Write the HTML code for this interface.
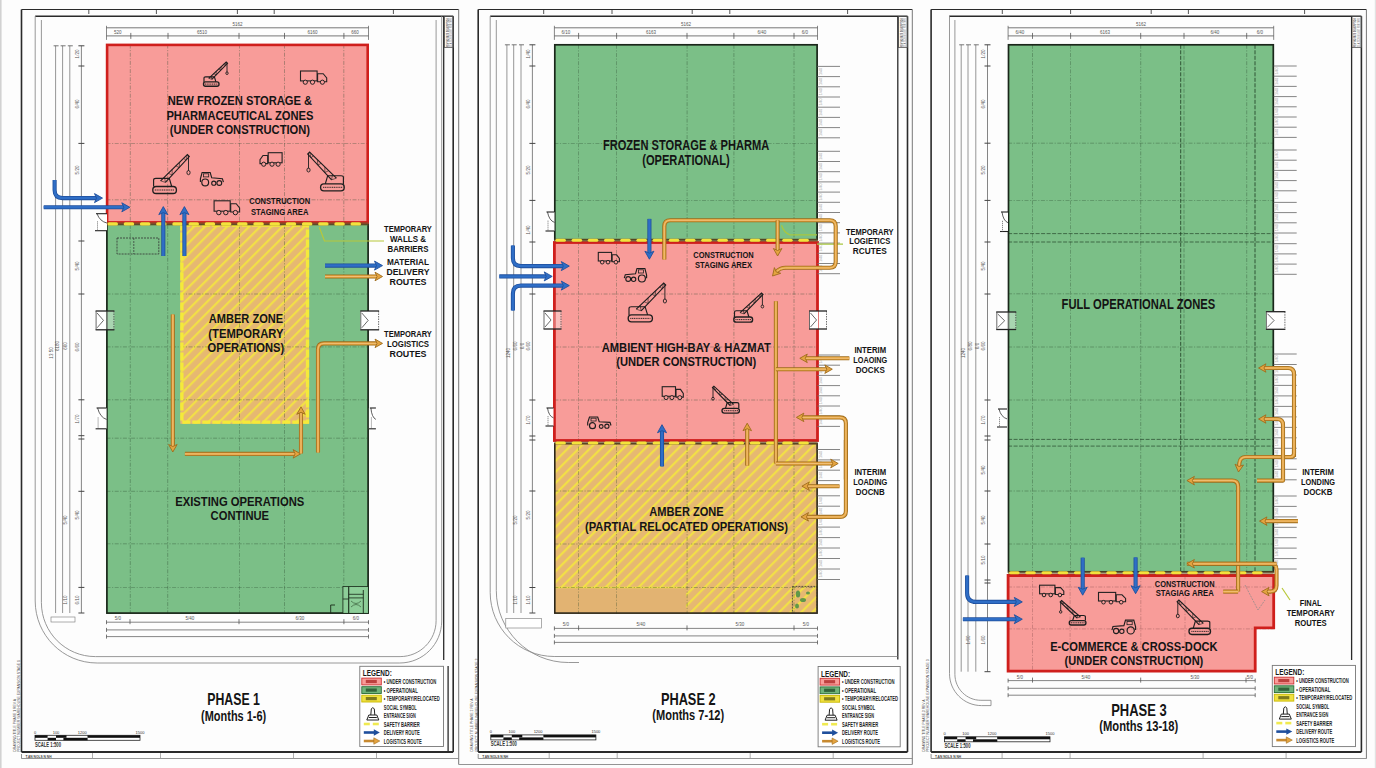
<!DOCTYPE html>
<html><head><meta charset="utf-8"><style>
html,body{margin:0;padding:0;background:#fff;}
svg{display:block;font-family:"Liberation Sans",sans-serif;}
</style></head><body>
<svg width="1376" height="768" viewBox="0 0 1376 768">
<defs>
<pattern id="hat" patternUnits="userSpaceOnUse" width="7.8" height="7.8" patternTransform="rotate(45)">
<rect width="7.8" height="7.8" fill="#e6b872"/><rect x="0" y="0" width="2.2" height="7.8" fill="#f2e046"/>
</pattern>
</defs>
<rect width="1376" height="768" fill="#fdfdfd"/>
<line x1="0.8" y1="0" x2="0.8" y2="768" stroke="#d0d0d0" stroke-width="1.5"/>
<line x1="1375.4" y1="0" x2="1375.4" y2="768" stroke="#e2e2e2" stroke-width="1.2"/>
<line x1="21.5" y1="9.5" x2="458.7" y2="9.5" stroke="#2a2a2a" stroke-width="1.2" /><line x1="21.5" y1="9.5" x2="21.5" y2="752.0" stroke="#2a2a2a" stroke-width="1.6" /><line x1="458.7" y1="9.5" x2="458.7" y2="764.5" stroke="#777" stroke-width="1.0" /><line x1="35.2" y1="16.2" x2="453.2" y2="16.2" stroke="#2a2a2a" stroke-width="1.6" /><line x1="453.2" y1="16.2" x2="453.2" y2="752.0" stroke="#2a2a2a" stroke-width="1.6" /><line x1="21.5" y1="752.0" x2="453.2" y2="752.0" stroke="#2a2a2a" stroke-width="1.8" /><line x1="21.5" y1="758.5" x2="458.7" y2="758.5" stroke="#888" stroke-width="0.9" /><rect x="444.3" y="16.5" width="8.9" height="31.0" fill="none" stroke="#555" stroke-width="0.8" /><text transform="translate(448.9,47) rotate(-90)" font-size="4" font-weight="bold" fill="#555" textLength="29" lengthAdjust="spacingAndGlyphs">REV NO DATE DESCRIPTION</text><text transform="translate(452.1,47) rotate(-90)" font-size="3.2" fill="#777" textLength="29" lengthAdjust="spacingAndGlyphs">01 A 2024 ISSUED FOR INFO</text><line x1="88.8" y1="9.5" x2="88.8" y2="14.0" stroke="#2a2a2a" stroke-width="0.8" /><line x1="156.4" y1="9.5" x2="156.4" y2="14.0" stroke="#2a2a2a" stroke-width="0.8" /><line x1="237.4" y1="9.5" x2="237.4" y2="14.0" stroke="#2a2a2a" stroke-width="0.8" /><line x1="274.2" y1="9.5" x2="274.2" y2="14.0" stroke="#2a2a2a" stroke-width="0.8" /><line x1="393.4" y1="9.5" x2="393.4" y2="14.0" stroke="#2a2a2a" stroke-width="0.8" /><line x1="443.7" y1="16.5" x2="443.7" y2="660.0" stroke="#2a2a2a" stroke-width="1.3" /><line x1="448.1" y1="666.0" x2="448.1" y2="752.0" stroke="#2a2a2a" stroke-width="1.3" /><path d="M35.2,16.2 L35.2,601 C35.2,635.2426 62.95740000000001,663 97.2,663 L399.7,663 C422.8966,663 441.7,644.1966 441.7,621 L441.7,16.2" stroke="#8c8c8c" stroke-width="0.9" fill="none" /><path d="M41.4,20 L41.4,602.6 C41.4,632.4242 65.5758,656.6 95.4,656.6 L400.1,656.6 C419.9828,656.6 436.1,640.4828 436.1,620.6 L436.1,20" stroke="#8c8c8c" stroke-width="0.9" fill="none" /><text transform="translate(15.6,751.7) rotate(-90)" font-size="3.9" fill="#444" textLength="52.7" lengthAdjust="spacingAndGlyphs">DRAWING TITLE PHASE 1 REV A</text><text transform="translate(19.7,751.7) rotate(-90)" font-size="3.9" fill="#444" textLength="91.7" lengthAdjust="spacingAndGlyphs">PROJECT NUMBER WAREHOUSE EXPANSION STAGE 1</text><text x="25.5" y="757.5" font-size="4.2" font-weight="bold" fill="#444" textLength="26" lengthAdjust="spacingAndGlyphs">T.AN NOLS N NH</text><line x1="21.5" y1="754.0" x2="21.5" y2="758.5" stroke="#777" stroke-width="0.8" /><line x1="92.5" y1="753.0" x2="92.5" y2="758.5" stroke="#999" stroke-width="0.8" /><line x1="160.5" y1="753.0" x2="160.5" y2="758.5" stroke="#999" stroke-width="0.8" /><line x1="293.5" y1="753.0" x2="293.5" y2="758.5" stroke="#999" stroke-width="0.8" /><line x1="376.5" y1="753.0" x2="376.5" y2="758.5" stroke="#999" stroke-width="0.8" /><rect x="106.5" y="44.5" width="262.0" height="178.0" fill="#f89c99" stroke="none" stroke-width="1" /><rect x="106.5" y="224.0" width="262.0" height="389.5" fill="#7bbf87" stroke="none" stroke-width="1" /><rect x="180.3" y="225.0" width="128.8" height="198.8" fill="url(#hat)" stroke="none" stroke-width="1" /><line x1="130.3" y1="44.5" x2="130.3" y2="613.5" stroke="#2b4a2f" stroke-width="0.75" stroke-dasharray="4,1.5,1.2,1.5" opacity="0.47"/><line x1="167.7" y1="44.5" x2="167.7" y2="613.5" stroke="#2b4a2f" stroke-width="0.75" stroke-dasharray="4,1.5,1.2,1.5" opacity="0.47"/><line x1="239.4" y1="44.5" x2="239.4" y2="613.5" stroke="#2b4a2f" stroke-width="0.75" stroke-dasharray="4,1.5,1.2,1.5" opacity="0.47"/><line x1="284.5" y1="44.5" x2="284.5" y2="613.5" stroke="#2b4a2f" stroke-width="0.75" stroke-dasharray="4,1.5,1.2,1.5" opacity="0.47"/><line x1="343.8" y1="44.5" x2="343.8" y2="613.5" stroke="#2b4a2f" stroke-width="0.75" stroke-dasharray="4,1.5,1.2,1.5" opacity="0.47"/><line x1="106.5" y1="143.4" x2="368.5" y2="143.4" stroke="#2b4a2f" stroke-width="0.75" stroke-dasharray="4,1.5,1.2,1.5" opacity="0.47"/><line x1="106.5" y1="199.8" x2="368.5" y2="199.8" stroke="#2b4a2f" stroke-width="0.75" stroke-dasharray="4,1.5,1.2,1.5" opacity="0.47"/><line x1="106.5" y1="294.0" x2="368.5" y2="294.0" stroke="#2b4a2f" stroke-width="0.75" stroke-dasharray="4,1.5,1.2,1.5" opacity="0.47"/><line x1="106.5" y1="346.9" x2="368.5" y2="346.9" stroke="#2b4a2f" stroke-width="0.75" stroke-dasharray="4,1.5,1.2,1.5" opacity="0.47"/><line x1="106.5" y1="399.8" x2="368.5" y2="399.8" stroke="#2b4a2f" stroke-width="0.75" stroke-dasharray="4,1.5,1.2,1.5" opacity="0.47"/><line x1="106.5" y1="438.2" x2="368.5" y2="438.2" stroke="#2b4a2f" stroke-width="0.75" stroke-dasharray="4,1.5,1.2,1.5" opacity="0.47"/><line x1="106.5" y1="491.3" x2="368.5" y2="491.3" stroke="#2b4a2f" stroke-width="0.75" stroke-dasharray="4,1.5,1.2,1.5" opacity="0.47"/><line x1="106.5" y1="543.8" x2="368.5" y2="543.8" stroke="#2b4a2f" stroke-width="0.75" stroke-dasharray="4,1.5,1.2,1.5" opacity="0.47"/><line x1="106.5" y1="587.4" x2="368.5" y2="587.4" stroke="#2b4a2f" stroke-width="0.75" stroke-dasharray="4,1.5,1.2,1.5" opacity="0.47"/><rect x="181.9" y="225.0" width="125.6" height="197.2" fill="none" stroke="#f4ea3a" stroke-width="3.3" stroke-dasharray="8,2"/><rect x="106.9" y="224.0" width="261.2" height="389.1" fill="none" stroke="#1a261a" stroke-width="1.7" /><rect x="107.1" y="44.9" width="260.6" height="177.5" fill="none" stroke="#cf1f1c" stroke-width="2.6" /><rect x="106.5" y="222.2" width="262.0" height="3.4" fill="#7a5a2a" stroke="none" stroke-width="1" opacity="0.6"/><rect x="107.5" y="222.3" width="10.5" height="3.2" fill="#f4e23c" stroke="none" stroke-width="1" rx="1.6"/><rect x="123.7" y="222.3" width="10.5" height="3.2" fill="#f4e23c" stroke="none" stroke-width="1" rx="1.6"/><rect x="139.9" y="222.3" width="10.5" height="3.2" fill="#f4e23c" stroke="none" stroke-width="1" rx="1.6"/><rect x="156.1" y="222.3" width="10.5" height="3.2" fill="#f4e23c" stroke="none" stroke-width="1" rx="1.6"/><rect x="172.3" y="222.3" width="10.5" height="3.2" fill="#f4e23c" stroke="none" stroke-width="1" rx="1.6"/><rect x="188.5" y="222.3" width="10.5" height="3.2" fill="#f4e23c" stroke="none" stroke-width="1" rx="1.6"/><rect x="204.7" y="222.3" width="10.5" height="3.2" fill="#f4e23c" stroke="none" stroke-width="1" rx="1.6"/><rect x="220.9" y="222.3" width="10.5" height="3.2" fill="#f4e23c" stroke="none" stroke-width="1" rx="1.6"/><rect x="237.1" y="222.3" width="10.5" height="3.2" fill="#f4e23c" stroke="none" stroke-width="1" rx="1.6"/><rect x="253.3" y="222.3" width="10.5" height="3.2" fill="#f4e23c" stroke="none" stroke-width="1" rx="1.6"/><rect x="269.5" y="222.3" width="10.5" height="3.2" fill="#f4e23c" stroke="none" stroke-width="1" rx="1.6"/><rect x="285.7" y="222.3" width="10.5" height="3.2" fill="#f4e23c" stroke="none" stroke-width="1" rx="1.6"/><rect x="301.9" y="222.3" width="10.5" height="3.2" fill="#f4e23c" stroke="none" stroke-width="1" rx="1.6"/><rect x="318.1" y="222.3" width="10.5" height="3.2" fill="#f4e23c" stroke="none" stroke-width="1" rx="1.6"/><rect x="334.3" y="222.3" width="10.5" height="3.2" fill="#f4e23c" stroke="none" stroke-width="1" rx="1.6"/><rect x="350.5" y="222.3" width="10.5" height="3.2" fill="#f4e23c" stroke="none" stroke-width="1" rx="1.6"/><line x1="106.5" y1="27.8" x2="368.5" y2="27.8" stroke="#555" stroke-width="0.8" /><line x1="106.5" y1="35.9" x2="368.5" y2="35.9" stroke="#555" stroke-width="0.8" /><line x1="106.5" y1="25.8" x2="106.5" y2="39.9" stroke="#555" stroke-width="0.7" /><line x1="368.5" y1="25.8" x2="368.5" y2="39.9" stroke="#555" stroke-width="0.7" /><line x1="130.8" y1="32.9" x2="130.8" y2="38.9" stroke="#555" stroke-width="0.8" /><line x1="168.0" y1="32.9" x2="168.0" y2="38.9" stroke="#555" stroke-width="0.8" /><line x1="239.0" y1="32.9" x2="239.0" y2="38.9" stroke="#555" stroke-width="0.8" /><line x1="284.5" y1="32.9" x2="284.5" y2="38.9" stroke="#555" stroke-width="0.8" /><line x1="343.9" y1="32.9" x2="343.9" y2="38.9" stroke="#555" stroke-width="0.8" /><text x="237.5" y="26.3" font-size="4.5" fill="#555" text-anchor="middle">5162</text><text x="117.8" y="33.9" font-size="4.5" fill="#555" text-anchor="middle">520</text><text x="202.0" y="33.9" font-size="4.5" fill="#555" text-anchor="middle">6510</text><text x="312.5" y="33.9" font-size="4.5" fill="#555" text-anchor="middle">6160</text><text x="355.0" y="33.9" font-size="4.5" fill="#555" text-anchor="middle">660</text><line x1="106.5" y1="622.2" x2="368.5" y2="622.2" stroke="#666" stroke-width="0.8" /><line x1="106.5" y1="620.2" x2="106.5" y2="624.2" stroke="#555" stroke-width="0.8" /><line x1="368.5" y1="620.2" x2="368.5" y2="624.2" stroke="#555" stroke-width="0.8" /><line x1="106.5" y1="629.9" x2="368.5" y2="629.9" stroke="#666" stroke-width="0.8" /><line x1="106.5" y1="627.9" x2="106.5" y2="631.9" stroke="#555" stroke-width="0.8" /><line x1="368.5" y1="627.9" x2="368.5" y2="631.9" stroke="#555" stroke-width="0.8" /><line x1="106.5" y1="636.6" x2="368.5" y2="636.6" stroke="#666" stroke-width="0.8" /><line x1="106.5" y1="634.6" x2="106.5" y2="638.6" stroke="#555" stroke-width="0.8" /><line x1="368.5" y1="634.6" x2="368.5" y2="638.6" stroke="#555" stroke-width="0.8" /><line x1="130.0" y1="619.2" x2="130.0" y2="624.2" stroke="#555" stroke-width="0.8" /><line x1="239.0" y1="619.2" x2="239.0" y2="624.2" stroke="#555" stroke-width="0.8" /><line x1="343.9" y1="619.2" x2="343.9" y2="624.2" stroke="#555" stroke-width="0.8" /><text x="118.0" y="620.2" font-size="4.5" fill="#555" text-anchor="middle">5/0</text><text x="190.0" y="620.2" font-size="4.5" fill="#555" text-anchor="middle">5/40</text><text x="300.0" y="620.2" font-size="4.5" fill="#555" text-anchor="middle">6/30</text><text x="356.0" y="620.2" font-size="4.5" fill="#555" text-anchor="middle">6/0</text><line x1="55.6" y1="45.8" x2="55.6" y2="613.0" stroke="#8a8a8a" stroke-width="0.9" /><line x1="53.6" y1="45.8" x2="58.6" y2="45.8" stroke="#555" stroke-width="0.8" /><line x1="62.6" y1="45.8" x2="62.6" y2="613.0" stroke="#8a8a8a" stroke-width="0.9" /><line x1="60.6" y1="45.8" x2="65.6" y2="45.8" stroke="#555" stroke-width="0.8" /><line x1="69.8" y1="45.8" x2="69.8" y2="613.0" stroke="#8a8a8a" stroke-width="0.9" /><line x1="67.8" y1="45.8" x2="72.8" y2="45.8" stroke="#555" stroke-width="0.8" /><line x1="81.4" y1="45.8" x2="81.4" y2="613.0" stroke="#777" stroke-width="0.9" /><line x1="78.4" y1="45.8" x2="84.4" y2="45.8" stroke="#444" stroke-width="1.0" /><line x1="78.4" y1="66.0" x2="84.4" y2="66.0" stroke="#444" stroke-width="1.0" /><line x1="78.4" y1="143.4" x2="84.4" y2="143.4" stroke="#444" stroke-width="1.0" /><line x1="78.4" y1="241.0" x2="84.4" y2="241.0" stroke="#444" stroke-width="1.0" /><line x1="78.4" y1="294.0" x2="84.4" y2="294.0" stroke="#444" stroke-width="1.0" /><line x1="78.4" y1="399.8" x2="84.4" y2="399.8" stroke="#444" stroke-width="1.0" /><line x1="78.4" y1="435.7" x2="84.4" y2="435.7" stroke="#444" stroke-width="1.0" /><line x1="78.4" y1="439.0" x2="84.4" y2="439.0" stroke="#444" stroke-width="1.0" /><line x1="78.4" y1="491.3" x2="84.4" y2="491.3" stroke="#444" stroke-width="1.0" /><line x1="78.4" y1="587.4" x2="84.4" y2="587.4" stroke="#444" stroke-width="1.0" /><line x1="78.4" y1="613.0" x2="84.4" y2="613.0" stroke="#444" stroke-width="1.0" /><text transform="translate(78.6,54.0) rotate(-90)" font-size="4.5" fill="#555" text-anchor="middle">1/20</text><text transform="translate(78.6,104.0) rotate(-90)" font-size="4.5" fill="#555" text-anchor="middle">6/40</text><text transform="translate(78.6,170.0) rotate(-90)" font-size="4.5" fill="#555" text-anchor="middle">5/20</text><text transform="translate(78.6,266.0) rotate(-90)" font-size="4.5" fill="#555" text-anchor="middle">5/40</text><text transform="translate(78.6,347.0) rotate(-90)" font-size="4.5" fill="#555" text-anchor="middle">6/60</text><text transform="translate(78.6,419.0) rotate(-90)" font-size="4.5" fill="#555" text-anchor="middle">1/70</text><text transform="translate(52.8,353.0) rotate(-90)" font-size="4.5" fill="#555" text-anchor="middle">13 50</text><text transform="translate(59.4,346.0) rotate(-90)" font-size="4.5" fill="#555" text-anchor="middle">6180</text><text transform="translate(67.2,346.0) rotate(-90)" font-size="4.5" fill="#555" text-anchor="middle">660</text><text transform="translate(78.6,515.0) rotate(-90)" font-size="4.5" fill="#555" text-anchor="middle">5/40</text><text transform="translate(67.0,520.0) rotate(-90)" font-size="4.5" fill="#555" text-anchor="middle">5/40</text><text transform="translate(78.6,600.0) rotate(-90)" font-size="4.5" fill="#555" text-anchor="middle">6/10</text><text transform="translate(67.0,600.0) rotate(-90)" font-size="4.5" fill="#555" text-anchor="middle">1/10</text><rect x="51.0" y="617.0" width="24.0" height="5.0" fill="#fff" stroke="#777" stroke-width="0.6" /><rect x="105.0" y="311.0" width="9.4" height="18.8" fill="#ffffff" stroke="none" stroke-width="1" opacity="0.35"/><rect x="95.6" y="311.0" width="9.4" height="18.8" fill="#ffffff" stroke="none" stroke-width="1" /><line x1="95.6" y1="311.0" x2="114.4" y2="311.0" stroke="#222" stroke-width="1.3" /><line x1="95.6" y1="329.8" x2="114.4" y2="329.8" stroke="#222" stroke-width="1.3" /><line x1="96.1" y1="311.0" x2="96.1" y2="329.8" stroke="#444" stroke-width="0.8" /><line x1="113.9" y1="311.0" x2="113.9" y2="329.8" stroke="#333" stroke-width="0.7" stroke-dasharray="1.5,1"/><path d="M97.1,313 L103.496,320.4 L97.1,327.8" stroke="#444" stroke-width="0.8" fill="none" /><rect x="369.7" y="311.0" width="9.4" height="18.8" fill="#ffffff" stroke="none" stroke-width="1" opacity="0.35"/><rect x="360.3" y="311.0" width="9.4" height="18.8" fill="#ffffff" stroke="none" stroke-width="1" /><line x1="360.3" y1="311.0" x2="379.1" y2="311.0" stroke="#222" stroke-width="1.3" /><line x1="360.3" y1="329.8" x2="379.1" y2="329.8" stroke="#222" stroke-width="1.3" /><line x1="360.8" y1="311.0" x2="360.8" y2="329.8" stroke="#444" stroke-width="0.8" /><line x1="378.6" y1="311.0" x2="378.6" y2="329.8" stroke="#333" stroke-width="0.7" stroke-dasharray="1.5,1"/><path d="M361.8,313 L368.196,320.4 L361.8,327.8" stroke="#444" stroke-width="0.8" fill="none" /><rect x="95.6" y="408.0" width="11.0" height="20.8" fill="#ffffff" stroke="none" stroke-width="1" /><line x1="96.6" y1="408.0" x2="106.6" y2="408.0" stroke="#222" stroke-width="1.1" /><line x1="95.6" y1="428.8" x2="106.6" y2="428.8" stroke="#222" stroke-width="1.1" /><path d="M97.6,408 Q100.0,417.36 106.6,419.44" stroke="#333" stroke-width="0.8" fill="none" /><line x1="98.1" y1="417.4" x2="98.1" y2="428.8" stroke="#555" stroke-width="0.7" stroke-dasharray="1.2,0.8"/><rect x="368.9" y="408.0" width="7.0" height="20.8" fill="#ffffff" stroke="none" stroke-width="1" /><line x1="369.9" y1="408.0" x2="375.9" y2="408.0" stroke="#222" stroke-width="1.1" /><line x1="368.9" y1="428.8" x2="375.9" y2="428.8" stroke="#222" stroke-width="1.1" /><path d="M370.9,408 Q371.7,417.36 375.9,419.44" stroke="#333" stroke-width="0.8" fill="none" /><line x1="371.4" y1="417.4" x2="371.4" y2="428.8" stroke="#555" stroke-width="0.7" stroke-dasharray="1.2,0.8"/><rect x="95.0" y="213.7" width="12.0" height="17.0" fill="#ffffff" stroke="none" stroke-width="1" /><line x1="96.0" y1="213.7" x2="107.0" y2="213.7" stroke="#222" stroke-width="1.1" /><line x1="95.0" y1="230.7" x2="107.0" y2="230.7" stroke="#222" stroke-width="1.1" /><path d="M97,213.7 Q99.8,221.35 107,223.04999999999998" stroke="#333" stroke-width="0.8" fill="none" /><line x1="97.5" y1="221.3" x2="97.5" y2="230.7" stroke="#555" stroke-width="0.7" stroke-dasharray="1.2,0.8"/><rect x="342.9" y="586.5" width="25.6" height="27.0" fill="#8fd09a" stroke="#1a2a1a" stroke-width="0.9" opacity="0.9"/><line x1="348.7" y1="586.5" x2="348.7" y2="613.5" stroke="#1a2a1a" stroke-width="1.1" /><line x1="363.3" y1="590.0" x2="363.3" y2="613.5" stroke="#1a2a1a" stroke-width="0.9" /><line x1="348.7" y1="594.3" x2="363.3" y2="594.3" stroke="#1a2a1a" stroke-width="0.8" /><line x1="348.7" y1="597.9" x2="363.3" y2="597.9" stroke="#1a2a1a" stroke-width="0.8" /><line x1="342.9" y1="599.0" x2="348.7" y2="599.0" stroke="#1a2a1a" stroke-width="0.8" /><path d="M351,601 Q356,606 361,601 M351,607 Q356,602 361,607" stroke="#2a4a2a" stroke-width="0.6" fill="none" /><path d="M330.7,613.5 L330.7,605 L335,605" stroke="#1a2a1a" stroke-width="0.9" fill="none" /><rect x="117.0" y="238.0" width="41.8" height="16.0" fill="none" stroke="#333" stroke-width="0.8" stroke-dasharray="2,1"/><line x1="133.8" y1="238.0" x2="133.8" y2="254.0" stroke="#333" stroke-width="0.7" stroke-dasharray="2,1"/><g transform="translate(203.0,61.5)"><rect x="0.5" y="20.4" width="15.5" height="4.3" rx="2.0" fill="none" stroke="#1e1e1e" stroke-width="1.3499999999999999"/><line x1="1.8" y1="22.6" x2="14.7" y2="22.6" stroke="#1e1e1e" stroke-width="0.9" stroke-dasharray="1.2,0.6"/><path d="M1.0,20.4 L1.0,16.3 Q1.0,15.3 2.6,15.3 L11.4,15.3 L12.9,20.4" fill="none" stroke="#1e1e1e" stroke-width="1.15"/><path d="M5.7,16.8 L23.2,0.5 L24.5,1.8 L8.8,17.8" fill="none" stroke="#1e1e1e" stroke-width="1.15"/><path d="M5.7,16.8 L8.8,17.8 L8.2,14.5 M10.7,12.2 L13.3,13.3 L13.2,9.8 M15.7,7.5 L17.8,8.7 L18.2,5.2 M20.7,2.8 L22.3,4.1 L23.2,0.5 " fill="none" stroke="#1e1e1e" stroke-width="0.6"/><path d="M24.0,1.3 L24.0,10.7" stroke="#1e1e1e" stroke-width="0.9"/><ellipse cx="24.0" cy="11.7" rx="1.2" ry="1.3" fill="none" stroke="#1e1e1e" stroke-width="0.9"/></g><g transform="translate(300.5,71.0)"><rect x="0" y="0" width="16.6" height="9.9" fill="none" stroke="#222" stroke-width="1.1"/><path d="M17.1,2.7 L22.7,2.7 L26.2,6.9 L26.2,10.7 L17.1,10.7 Z" fill="none" stroke="#222" stroke-width="1.1"/><circle cx="4.8" cy="11.2" r="2.1" fill="#f89c99" stroke="#222" stroke-width="1"/><circle cx="12.0" cy="11.2" r="2.1" fill="#f89c99" stroke="#222" stroke-width="1"/><circle cx="21.9" cy="11.2" r="2.1" fill="#f89c99" stroke="#222" stroke-width="1"/></g><g transform="translate(152.0,153.7)"><rect x="0.8" y="32.8" width="23.6" height="7.0" rx="3.3" fill="none" stroke="#1e1e1e" stroke-width="1.3499999999999999"/><line x1="2.8" y1="36.3" x2="22.4" y2="36.3" stroke="#1e1e1e" stroke-width="0.9" stroke-dasharray="1.2,0.6"/><path d="M1.6,32.8 L1.6,26.2 Q1.6,24.6 3.9,24.6 L17.3,24.6 L19.7,32.8" fill="none" stroke="#1e1e1e" stroke-width="1.15"/><path d="M8.6,27.1 L35.4,0.8 L37.3,2.9 L13.4,28.7" fill="none" stroke="#1e1e1e" stroke-width="1.15"/><path d="M8.6,27.1 L13.4,28.7 L12.5,23.3 M16.3,19.6 L20.2,21.3 L20.1,15.8 M23.9,12.1 L27.1,13.9 L27.7,8.3 M31.6,4.6 L33.9,6.6 L35.4,0.8 " fill="none" stroke="#1e1e1e" stroke-width="0.6"/><path d="M36.5,2.1 L36.5,17.2" stroke="#1e1e1e" stroke-width="0.9"/><ellipse cx="36.5" cy="18.9" rx="1.6" ry="2.1" fill="none" stroke="#1e1e1e" stroke-width="0.9"/></g><g transform="translate(224.4,171.8) scale(-1,1)"><path d="M1.0,10.3 L2.0,6.9 L12.7,6.0 L14.2,0.7 L22.3,0.7 L24.0,7.1 L24.0,10.3" fill="none" stroke="#1e1e1e" stroke-width="1.15"/><rect x="15.7" y="2.0" width="5.1" height="3.1" fill="none" stroke="#1e1e1e" stroke-width="0.8"/><circle cx="5.1" cy="11.2" r="2.4" fill="none" stroke="#1e1e1e" stroke-width="1.1"/><circle cx="10.6" cy="11.4" r="2.1" fill="none" stroke="#1e1e1e" stroke-width="1.1"/><circle cx="19.2" cy="10.6" r="3.4" fill="none" stroke="#1e1e1e" stroke-width="1.2"/></g><g transform="translate(282.1,152.7) scale(-1,1)"><rect x="0" y="0" width="13.9" height="10.1" fill="none" stroke="#222" stroke-width="1.1"/><path d="M14.4,2.8 L19.1,2.8 L22.1,7.0 L22.1,10.9 L14.4,10.9 Z" fill="none" stroke="#222" stroke-width="1.1"/><circle cx="4.0" cy="11.5" r="2.1" fill="#f89c99" stroke="#222" stroke-width="1"/><circle cx="10.1" cy="11.5" r="2.1" fill="#f89c99" stroke="#222" stroke-width="1"/><circle cx="18.4" cy="11.5" r="2.1" fill="#f89c99" stroke="#222" stroke-width="1"/></g><g transform="translate(345.0,151.3) scale(-1,1)"><rect x="0.8" y="32.6" width="23.6" height="6.9" rx="3.3" fill="none" stroke="#1e1e1e" stroke-width="1.3499999999999999"/><line x1="2.8" y1="36.0" x2="22.4" y2="36.0" stroke="#1e1e1e" stroke-width="0.9" stroke-dasharray="1.2,0.6"/><path d="M1.6,32.6 L1.6,26.0 Q1.6,24.4 3.9,24.4 L17.3,24.4 L19.7,32.6" fill="none" stroke="#1e1e1e" stroke-width="1.15"/><path d="M8.6,26.9 L35.4,0.8 L37.3,2.8 L13.4,28.5" fill="none" stroke="#1e1e1e" stroke-width="1.15"/><path d="M8.6,26.9 L13.4,28.5 L12.5,23.1 M16.3,19.4 L20.2,21.2 L20.1,15.7 M23.9,12.0 L27.1,13.8 L27.7,8.3 M31.6,4.5 L33.9,6.5 L35.4,0.8 " fill="none" stroke="#1e1e1e" stroke-width="0.6"/><path d="M36.5,2.0 L36.5,17.1" stroke="#1e1e1e" stroke-width="0.9"/><ellipse cx="36.5" cy="18.7" rx="1.6" ry="2.0" fill="none" stroke="#1e1e1e" stroke-width="0.9"/></g><g transform="translate(214.1,200.8)"><rect x="0" y="0" width="16.1" height="10.4" fill="none" stroke="#222" stroke-width="1.1"/><path d="M16.6,2.9 L22.1,2.9 L25.5,7.2 L25.5,11.2 L16.6,11.2 Z" fill="none" stroke="#222" stroke-width="1.1"/><circle cx="4.7" cy="11.8" r="2.2" fill="#f89c99" stroke="#222" stroke-width="1"/><circle cx="11.7" cy="11.8" r="2.2" fill="#f89c99" stroke="#222" stroke-width="1"/><circle cx="21.3" cy="11.8" r="2.2" fill="#f89c99" stroke="#222" stroke-width="1"/></g><text x="167.7" y="105.3" font-size="13.4" font-weight="bold" fill="#141414" textLength="144.5" lengthAdjust="spacingAndGlyphs" >NEW FROZEN STORAGE &amp;</text><text x="166.4" y="119.7" font-size="13.4" font-weight="bold" fill="#141414" textLength="147.1" lengthAdjust="spacingAndGlyphs" >PHARMACEUTICAL ZONES</text><text x="169.8" y="134.3" font-size="13.4" font-weight="bold" fill="#141414" textLength="140.3" lengthAdjust="spacingAndGlyphs" >(UNDER CONSTRUCTION)</text><text x="249.3" y="204.3" font-size="8.2" font-weight="bold" fill="#141414" textLength="60.8" lengthAdjust="spacingAndGlyphs" >CONSTRUCTION</text><text x="251.0" y="214.5" font-size="8.2" font-weight="bold" fill="#141414" textLength="57.4" lengthAdjust="spacingAndGlyphs" >STAGING AREA</text><text x="208.7" y="323.2" font-size="12.6" font-weight="bold" fill="#141414" textLength="74.5" lengthAdjust="spacingAndGlyphs" >AMBER ZONE</text><text x="208.3" y="337.5" font-size="12.6" font-weight="bold" fill="#141414" textLength="75.2" lengthAdjust="spacingAndGlyphs" >(TEMPORARY</text><text x="207.5" y="351.8" font-size="12.6" font-weight="bold" fill="#141414" textLength="76.8" lengthAdjust="spacingAndGlyphs" >OPERATIONS)</text><text x="175.2" y="506.3" font-size="12.6" font-weight="bold" fill="#141414" textLength="129.1" lengthAdjust="spacingAndGlyphs" >EXISTING OPERATIONS</text><text x="210.6" y="520.3" font-size="12.6" font-weight="bold" fill="#141414" textLength="58.5" lengthAdjust="spacingAndGlyphs" >CONTINUE</text><text x="384.1" y="232.3" font-size="9.6" font-weight="bold" fill="#141414" textLength="47.8" lengthAdjust="spacingAndGlyphs" >TEMPORARY</text><text x="390.0" y="241.9" font-size="9.6" font-weight="bold" fill="#141414" textLength="36.0" lengthAdjust="spacingAndGlyphs" >WALLS &amp;</text><text x="387.5" y="251.8" font-size="9.6" font-weight="bold" fill="#141414" textLength="41.0" lengthAdjust="spacingAndGlyphs" >BARRIERS</text><text x="387.0" y="264.8" font-size="9.6" font-weight="bold" fill="#141414" textLength="42.0" lengthAdjust="spacingAndGlyphs" >MATERIAL</text><text x="386.5" y="275.0" font-size="9.6" font-weight="bold" fill="#141414" textLength="43.0" lengthAdjust="spacingAndGlyphs" >DELIVERY</text><text x="389.5" y="284.6" font-size="9.6" font-weight="bold" fill="#141414" textLength="37.0" lengthAdjust="spacingAndGlyphs" >ROUTES</text><text x="384.1" y="337.2" font-size="9.6" font-weight="bold" fill="#141414" textLength="47.8" lengthAdjust="spacingAndGlyphs" >TEMPORARY</text><text x="387.0" y="347.1" font-size="9.6" font-weight="bold" fill="#141414" textLength="42.0" lengthAdjust="spacingAndGlyphs" >LOGISTICS</text><text x="389.5" y="357.0" font-size="9.6" font-weight="bold" fill="#141414" textLength="37.0" lengthAdjust="spacingAndGlyphs" >ROUTES</text><text x="207.2" y="705.0" font-size="16.3" font-weight="bold" fill="#141414" textLength="52.7" lengthAdjust="spacingAndGlyphs" >PHASE 1</text><text x="201.1" y="720.5" font-size="14.2" font-weight="bold" fill="#141414" textLength="65.1" lengthAdjust="spacingAndGlyphs" >(Months 1-6)</text><rect x="359.8" y="666.3" width="83.7" height="80.2" fill="#fff" stroke="#777" stroke-width="0.9" /><text x="362.8" y="676.3" font-size="8.5" font-weight="bold" fill="#1a1a1a" textLength="29" lengthAdjust="spacingAndGlyphs">LEGEND:</text><rect x="361.8" y="678.1" width="19.5" height="6.8" fill="#f89c99" stroke="#c33" stroke-width="0.9" /><rect x="365.8" y="679.9" width="11.0" height="3.2" fill="#a22" stroke="none" stroke-width="1" opacity="0.75"/><rect x="361.8" y="686.7" width="19.5" height="6.8" fill="#6fb37a" stroke="#2a6a35" stroke-width="0.9" /><rect x="365.8" y="688.5" width="11.0" height="3.2" fill="#1d4a25" stroke="none" stroke-width="1" opacity="0.75"/><rect x="361.8" y="695.2" width="19.5" height="6.8" fill="#f0e040" stroke="#c8b800" stroke-width="0.9" /><rect x="365.8" y="697.0" width="11.0" height="3.2" fill="#5a5a10" stroke="none" stroke-width="1" opacity="0.75"/><text x="383.8" y="684.0" font-size="7" font-weight="bold" fill="#262626" textLength="52.5" lengthAdjust="spacingAndGlyphs">• UNDER CONSTRUCTION</text><text x="383.8" y="692.5" font-size="7" font-weight="bold" fill="#262626" textLength="34.0" lengthAdjust="spacingAndGlyphs">• OPERATIONAL</text><text x="383.8" y="701.0" font-size="7" font-weight="bold" fill="#262626" textLength="56.0" lengthAdjust="spacingAndGlyphs">• TEMPORARY/RELOCATED</text><text x="383.8" y="709.5" font-size="7" font-weight="bold" fill="#262626" textLength="33.0" lengthAdjust="spacingAndGlyphs">SOCIAL SYMBOL</text><text x="383.8" y="718.0" font-size="7" font-weight="bold" fill="#262626" textLength="32.0" lengthAdjust="spacingAndGlyphs">ENTRANCE SIGN</text><text x="383.8" y="726.5" font-size="7" font-weight="bold" fill="#262626" textLength="36.0" lengthAdjust="spacingAndGlyphs">SAFETY BARRIER</text><text x="383.8" y="735.0" font-size="7" font-weight="bold" fill="#262626" textLength="36.0" lengthAdjust="spacingAndGlyphs">DELIVERY ROUTE</text><text x="383.8" y="743.5" font-size="7" font-weight="bold" fill="#262626" textLength="38.0" lengthAdjust="spacingAndGlyphs">LOGISTICS ROUTE</text><path d="M366.8,720.0 L378.8,720.0 L376.8,715.0 L368.8,715.0 Z M370.8,715.0 L371.3,709.0 Q372.8,706.0 374.3,709.0 L374.8,715.0 M368.8,717.5 L376.8,717.5" stroke="#222" stroke-width="1.0" fill="none" /><rect x="363.8" y="722.7" width="6.0" height="2.6" fill="#f0ea50" stroke="none" stroke-width="1" /><rect x="372.8" y="722.7" width="6.0" height="2.6" fill="#f0ea50" stroke="none" stroke-width="1" /><line x1="363.8" y1="732.5" x2="374.8" y2="732.5" stroke="#1f4f9c" stroke-width="2.6" /><path d="M379.8,732.5 L373.8,729.3 L373.8,735.7 Z" stroke="none" stroke-width="1" fill="#1f4f9c" /><line x1="363.8" y1="741.0" x2="374.8" y2="741.0" stroke="#c88a30" stroke-width="2.6" /><path d="M379.8,741.0 L373.8,737.8 L373.8,744.2 Z" stroke="#9e6c1c" stroke-width="0.6" fill="#e5a440" /><rect x="35.0" y="735.3" width="105.0" height="5.0" fill="#fff" stroke="#222" stroke-width="0.8" /><rect x="35.0" y="735.3" width="12.6" height="2.5" fill="#111" stroke="none" stroke-width="1" /><rect x="56.0" y="735.3" width="10.5" height="2.5" fill="#111" stroke="none" stroke-width="1" /><rect x="87.5" y="735.3" width="52.5" height="2.5" fill="#111" stroke="none" stroke-width="1" /><rect x="47.6" y="737.8" width="8.4" height="2.5" fill="#111" stroke="none" stroke-width="1" /><rect x="63.4" y="737.8" width="24.2" height="2.5" fill="#111" stroke="none" stroke-width="1" /><text x="35.0" y="733.8" font-size="4" fill="#333" text-anchor="middle">0</text><text x="56.0" y="733.8" font-size="4" fill="#333" text-anchor="middle">100</text><text x="82.2" y="733.8" font-size="4" fill="#333" text-anchor="middle">1200</text><text x="140.0" y="733.8" font-size="4" fill="#333" text-anchor="middle">1500</text><text x="35.0" y="746.8" font-size="7" font-weight="bold" fill="#333" textLength="26" lengthAdjust="spacingAndGlyphs">SCALE 1:500</text><path d="M319.3,227.3 L324.5,241 L384,241" stroke="#b8c83a" stroke-width="1.2" fill="none" /><path d="M54.6,180.0 L54.6,190.1 Q54.6,198.1 62.6,198.1 L96.9,198.1" stroke="#1f4f9c" stroke-width="4.1" fill="none" stroke-linecap="butt"/><path d="M54.6,180.0 L54.6,190.1 Q54.6,198.1 62.6,198.1 L96.9,198.1" stroke="#2f6ec6" stroke-width="2.5" fill="none" stroke-linecap="butt"/><path d="M102.5,198.1 L94.5,202.6 L96.5,198.1 L94.5,193.6 Z" fill="#2f6ec6" stroke="#1f4f9c" stroke-width="0.9"/><path d="M43.7,207.3 L124.2,207.3" stroke="#1f4f9c" stroke-width="4.1" fill="none" stroke-linecap="butt"/><path d="M43.7,207.3 L124.2,207.3" stroke="#2f6ec6" stroke-width="2.5" fill="none" stroke-linecap="butt"/><path d="M129.8,207.3 L121.8,211.8 L123.8,207.3 L121.8,202.8 Z" fill="#2f6ec6" stroke="#1f4f9c" stroke-width="0.9"/><path d="M163.3,256.0 L163.3,212.2" stroke="#1f4f9c" stroke-width="4.1" fill="none" stroke-linecap="butt"/><path d="M163.3,256.0 L163.3,212.2" stroke="#2f6ec6" stroke-width="2.5" fill="none" stroke-linecap="butt"/><path d="M163.3,206.6 L167.8,214.6 L163.3,212.6 L158.8,214.6 Z" fill="#2f6ec6" stroke="#1f4f9c" stroke-width="0.9"/><path d="M184.4,256.0 L184.4,212.2" stroke="#1f4f9c" stroke-width="4.1" fill="none" stroke-linecap="butt"/><path d="M184.4,256.0 L184.4,212.2" stroke="#2f6ec6" stroke-width="2.5" fill="none" stroke-linecap="butt"/><path d="M184.4,206.6 L188.9,214.6 L184.4,212.6 L179.9,214.6 Z" fill="#2f6ec6" stroke="#1f4f9c" stroke-width="0.9"/><path d="M325.0,265.6 L376.9,265.6" stroke="#1f4f9c" stroke-width="4.1" fill="none" stroke-linecap="butt"/><path d="M325.0,265.6 L376.9,265.6" stroke="#2f6ec6" stroke-width="2.5" fill="none" stroke-linecap="butt"/><path d="M382.5,265.6 L374.5,270.1 L376.5,265.6 L374.5,261.1 Z" fill="#2f6ec6" stroke="#1f4f9c" stroke-width="0.9"/><path d="M325.0,276.5 L377.2,276.5" stroke="#9e6c1c" stroke-width="4.1" fill="none" stroke-linecap="butt"/><path d="M325.0,276.5 L377.2,276.5" stroke="#e5a440" stroke-width="2.5" fill="none" stroke-linecap="butt"/><path d="M325.0,276.5 L377.2,276.5" stroke="#f2c27a" stroke-width="0.9" fill="none" stroke-linecap="butt"/><path d="M382.5,276.5 L375.0,280.8 L377.0,276.5 L375.0,272.2 Z" fill="#e5a440" stroke="#9e6c1c" stroke-width="0.9"/><path d="M172.8,314.4 L172.8,446.8" stroke="#9e6c1c" stroke-width="4.1" fill="none" stroke-linecap="butt"/><path d="M172.8,314.4 L172.8,446.8" stroke="#e5a440" stroke-width="2.5" fill="none" stroke-linecap="butt"/><path d="M172.8,314.4 L172.8,446.8" stroke="#f2c27a" stroke-width="0.9" fill="none" stroke-linecap="butt"/><path d="M172.8,452.0 L168.6,444.5 L172.8,446.5 L177.1,444.5 Z" fill="#e5a440" stroke="#9e6c1c" stroke-width="0.9"/><path d="M184.9,453.9 L295.4,453.9" stroke="#9e6c1c" stroke-width="4.1" fill="none" stroke-linecap="butt"/><path d="M184.9,453.9 L295.4,453.9" stroke="#e5a440" stroke-width="2.5" fill="none" stroke-linecap="butt"/><path d="M184.9,453.9 L295.4,453.9" stroke="#f2c27a" stroke-width="0.9" fill="none" stroke-linecap="butt"/><path d="M300.6,453.9 L293.1,458.1 L295.1,453.9 L293.1,449.6 Z" fill="#e5a440" stroke="#9e6c1c" stroke-width="0.9"/><path d="M301.0,453.5 L301.0,412.1" stroke="#9e6c1c" stroke-width="4.1" fill="none" stroke-linecap="butt"/><path d="M301.0,453.5 L301.0,412.1" stroke="#e5a440" stroke-width="2.5" fill="none" stroke-linecap="butt"/><path d="M301.0,453.5 L301.0,412.1" stroke="#f2c27a" stroke-width="0.9" fill="none" stroke-linecap="butt"/><path d="M301.0,406.8 L305.2,414.3 L301.0,412.3 L296.8,414.3 Z" fill="#e5a440" stroke="#9e6c1c" stroke-width="0.9"/><path d="M318.0,452.6 L318.0,349.4 Q318.0,343.4 324.0,343.4 L377.2,343.4" stroke="#9e6c1c" stroke-width="4.1" fill="none" stroke-linecap="butt"/><path d="M318.0,452.6 L318.0,349.4 Q318.0,343.4 324.0,343.4 L377.2,343.4" stroke="#e5a440" stroke-width="2.5" fill="none" stroke-linecap="butt"/><path d="M318.0,452.6 L318.0,349.4 Q318.0,343.4 324.0,343.4 L377.2,343.4" stroke="#f2c27a" stroke-width="0.9" fill="none" stroke-linecap="butt"/><path d="M382.5,343.4 L375.0,347.6 L377.0,343.4 L375.0,339.1 Z" fill="#e5a440" stroke="#9e6c1c" stroke-width="0.9"/><line x1="478.2" y1="9.5" x2="912.3" y2="9.5" stroke="#2a2a2a" stroke-width="1.2" /><line x1="478.2" y1="9.5" x2="478.2" y2="752.0" stroke="#2a2a2a" stroke-width="1.6" /><line x1="912.3" y1="9.5" x2="912.3" y2="764.5" stroke="#777" stroke-width="1.0" /><line x1="490.2" y1="16.2" x2="907.5" y2="16.2" stroke="#2a2a2a" stroke-width="1.6" /><line x1="907.5" y1="16.2" x2="907.5" y2="752.0" stroke="#2a2a2a" stroke-width="1.6" /><line x1="478.2" y1="752.0" x2="907.5" y2="752.0" stroke="#2a2a2a" stroke-width="1.8" /><line x1="478.2" y1="758.5" x2="912.3" y2="758.5" stroke="#888" stroke-width="0.9" /><rect x="898.6" y="16.5" width="8.9" height="31.0" fill="none" stroke="#555" stroke-width="0.8" /><text transform="translate(903.2,47) rotate(-90)" font-size="4" font-weight="bold" fill="#555" textLength="29" lengthAdjust="spacingAndGlyphs">REV NO DATE DESCRIPTION</text><text transform="translate(906.4,47) rotate(-90)" font-size="3.2" fill="#777" textLength="29" lengthAdjust="spacingAndGlyphs">01 A 2024 ISSUED FOR INFO</text><line x1="543.7" y1="9.5" x2="543.7" y2="14.0" stroke="#2a2a2a" stroke-width="0.8" /><line x1="612.0" y1="9.5" x2="612.0" y2="14.0" stroke="#2a2a2a" stroke-width="0.8" /><line x1="692.2" y1="9.5" x2="692.2" y2="14.0" stroke="#2a2a2a" stroke-width="0.8" /><line x1="729.8" y1="9.5" x2="729.8" y2="14.0" stroke="#2a2a2a" stroke-width="0.8" /><line x1="847.6" y1="9.5" x2="847.6" y2="14.0" stroke="#2a2a2a" stroke-width="0.8" /><line x1="897.8" y1="16.5" x2="897.8" y2="659.5" stroke="#2a2a2a" stroke-width="1.3" /><path d="M496.3,20 L496.3,590.5 C496.3,630.2656 528.5344,662.5 568.3,662.5 L579,662.5" stroke="#8c8c8c" stroke-width="0.9" fill="none" /><path d="M490.2,16.2 L490.2,592.5 C490.2,627.8472 518.8528,656.5 554.2,656.5 L897.5,656.5" stroke="#8c8c8c" stroke-width="0.9" fill="none" /><text transform="translate(472.6,751.5) rotate(-90)" font-size="3.9" fill="#444" textLength="53.0" lengthAdjust="spacingAndGlyphs">DRAWING TITLE PHASE 2 REV A</text><text transform="translate(477.6,751.5) rotate(-90)" font-size="3.9" fill="#444" textLength="93.0" lengthAdjust="spacingAndGlyphs">PROJECT NUMBER WAREHOUSE EXPANSION STAGE 2</text><text x="482.2" y="757.5" font-size="4.2" font-weight="bold" fill="#444" textLength="26" lengthAdjust="spacingAndGlyphs">T.AN NOLS N NH</text><line x1="478.2" y1="754.0" x2="478.2" y2="758.5" stroke="#777" stroke-width="0.8" /><line x1="549.2" y1="753.0" x2="549.2" y2="758.5" stroke="#999" stroke-width="0.8" /><line x1="617.2" y1="753.0" x2="617.2" y2="758.5" stroke="#999" stroke-width="0.8" /><line x1="750.2" y1="753.0" x2="750.2" y2="758.5" stroke="#999" stroke-width="0.8" /><line x1="833.2" y1="753.0" x2="833.2" y2="758.5" stroke="#999" stroke-width="0.8" /><line x1="458.7" y1="764.5" x2="912.3" y2="764.5" stroke="#888" stroke-width="0.9" /><rect x="554.4" y="44.8" width="263.1" height="195.0" fill="#7bbf87" stroke="none" stroke-width="1" /><rect x="554.4" y="242.5" width="263.1" height="198.0" fill="#f89c99" stroke="none" stroke-width="1" /><rect x="554.4" y="443.5" width="263.1" height="170.0" fill="url(#hat)" stroke="none" stroke-width="1" /><rect x="554.4" y="587.5" width="131.5" height="26.0" fill="#e2b372" stroke="none" stroke-width="1" /><line x1="554.4" y1="587.5" x2="685.8" y2="587.5" stroke="#f2e046" stroke-width="1.6" /><line x1="578.6" y1="44.8" x2="578.6" y2="613.5" stroke="#2b4a2f" stroke-width="0.75" stroke-dasharray="4,1.5,1.2,1.5" opacity="0.47"/><line x1="616.6" y1="44.8" x2="616.6" y2="613.5" stroke="#2b4a2f" stroke-width="0.75" stroke-dasharray="4,1.5,1.2,1.5" opacity="0.47"/><line x1="687.1" y1="44.8" x2="687.1" y2="613.5" stroke="#2b4a2f" stroke-width="0.75" stroke-dasharray="4,1.5,1.2,1.5" opacity="0.47"/><line x1="733.9" y1="44.8" x2="733.9" y2="613.5" stroke="#2b4a2f" stroke-width="0.75" stroke-dasharray="4,1.5,1.2,1.5" opacity="0.47"/><line x1="794.0" y1="44.8" x2="794.0" y2="613.5" stroke="#2b4a2f" stroke-width="0.75" stroke-dasharray="4,1.5,1.2,1.5" opacity="0.47"/><line x1="554.4" y1="143.4" x2="817.5" y2="143.4" stroke="#2b4a2f" stroke-width="0.75" stroke-dasharray="4,1.5,1.2,1.5" opacity="0.47"/><line x1="554.4" y1="200.4" x2="817.5" y2="200.4" stroke="#2b4a2f" stroke-width="0.75" stroke-dasharray="4,1.5,1.2,1.5" opacity="0.47"/><line x1="554.4" y1="294.0" x2="817.5" y2="294.0" stroke="#2b4a2f" stroke-width="0.75" stroke-dasharray="4,1.5,1.2,1.5" opacity="0.47"/><line x1="554.4" y1="347.0" x2="817.5" y2="347.0" stroke="#2b4a2f" stroke-width="0.75" stroke-dasharray="4,1.5,1.2,1.5" opacity="0.47"/><line x1="554.4" y1="400.0" x2="817.5" y2="400.0" stroke="#2b4a2f" stroke-width="0.75" stroke-dasharray="4,1.5,1.2,1.5" opacity="0.47"/><line x1="554.4" y1="491.0" x2="817.5" y2="491.0" stroke="#2b4a2f" stroke-width="0.75" stroke-dasharray="4,1.5,1.2,1.5" opacity="0.47"/><line x1="554.4" y1="544.0" x2="817.5" y2="544.0" stroke="#2b4a2f" stroke-width="0.75" stroke-dasharray="4,1.5,1.2,1.5" opacity="0.47"/><line x1="554.4" y1="587.5" x2="817.5" y2="587.5" stroke="#2b4a2f" stroke-width="0.75" stroke-dasharray="4,1.5,1.2,1.5" opacity="0.47"/><rect x="554.8" y="44.8" width="262.3" height="195.0" fill="none" stroke="#1a261a" stroke-width="1.7" /><rect x="554.8" y="443.5" width="262.3" height="169.6" fill="none" stroke="#2a261a" stroke-width="1.6" /><rect x="554.4" y="242.5" width="263.1" height="198.0" fill="none" stroke="#cf1f1c" stroke-width="2.8" /><rect x="554.4" y="238.6" width="263.1" height="3.2" fill="#7a5a2a" stroke="none" stroke-width="1" opacity="0.6"/><rect x="555.4" y="238.7" width="10.5" height="3.0" fill="#f4e23c" stroke="none" stroke-width="1" rx="1.6"/><rect x="571.6" y="238.7" width="10.5" height="3.0" fill="#f4e23c" stroke="none" stroke-width="1" rx="1.6"/><rect x="587.8" y="238.7" width="10.5" height="3.0" fill="#f4e23c" stroke="none" stroke-width="1" rx="1.6"/><rect x="604.0" y="238.7" width="10.5" height="3.0" fill="#f4e23c" stroke="none" stroke-width="1" rx="1.6"/><rect x="620.2" y="238.7" width="10.5" height="3.0" fill="#f4e23c" stroke="none" stroke-width="1" rx="1.6"/><rect x="636.4" y="238.7" width="10.5" height="3.0" fill="#f4e23c" stroke="none" stroke-width="1" rx="1.6"/><rect x="652.6" y="238.7" width="10.5" height="3.0" fill="#f4e23c" stroke="none" stroke-width="1" rx="1.6"/><rect x="668.8" y="238.7" width="10.5" height="3.0" fill="#f4e23c" stroke="none" stroke-width="1" rx="1.6"/><rect x="685.0" y="238.7" width="10.5" height="3.0" fill="#f4e23c" stroke="none" stroke-width="1" rx="1.6"/><rect x="701.2" y="238.7" width="10.5" height="3.0" fill="#f4e23c" stroke="none" stroke-width="1" rx="1.6"/><rect x="717.4" y="238.7" width="10.5" height="3.0" fill="#f4e23c" stroke="none" stroke-width="1" rx="1.6"/><rect x="733.6" y="238.7" width="10.5" height="3.0" fill="#f4e23c" stroke="none" stroke-width="1" rx="1.6"/><rect x="749.8" y="238.7" width="10.5" height="3.0" fill="#f4e23c" stroke="none" stroke-width="1" rx="1.6"/><rect x="766.0" y="238.7" width="10.5" height="3.0" fill="#f4e23c" stroke="none" stroke-width="1" rx="1.6"/><rect x="782.2" y="238.7" width="10.5" height="3.0" fill="#f4e23c" stroke="none" stroke-width="1" rx="1.6"/><rect x="798.4" y="238.7" width="10.5" height="3.0" fill="#f4e23c" stroke="none" stroke-width="1" rx="1.6"/><rect x="554.4" y="441.5" width="263.1" height="3.2" fill="#7a5a2a" stroke="none" stroke-width="1" opacity="0.6"/><rect x="555.4" y="441.6" width="10.5" height="3.0" fill="#f4e23c" stroke="none" stroke-width="1" rx="1.6"/><rect x="571.6" y="441.6" width="10.5" height="3.0" fill="#f4e23c" stroke="none" stroke-width="1" rx="1.6"/><rect x="587.8" y="441.6" width="10.5" height="3.0" fill="#f4e23c" stroke="none" stroke-width="1" rx="1.6"/><rect x="604.0" y="441.6" width="10.5" height="3.0" fill="#f4e23c" stroke="none" stroke-width="1" rx="1.6"/><rect x="620.2" y="441.6" width="10.5" height="3.0" fill="#f4e23c" stroke="none" stroke-width="1" rx="1.6"/><rect x="636.4" y="441.6" width="10.5" height="3.0" fill="#f4e23c" stroke="none" stroke-width="1" rx="1.6"/><rect x="652.6" y="441.6" width="10.5" height="3.0" fill="#f4e23c" stroke="none" stroke-width="1" rx="1.6"/><rect x="668.8" y="441.6" width="10.5" height="3.0" fill="#f4e23c" stroke="none" stroke-width="1" rx="1.6"/><rect x="685.0" y="441.6" width="10.5" height="3.0" fill="#f4e23c" stroke="none" stroke-width="1" rx="1.6"/><rect x="701.2" y="441.6" width="10.5" height="3.0" fill="#f4e23c" stroke="none" stroke-width="1" rx="1.6"/><rect x="717.4" y="441.6" width="10.5" height="3.0" fill="#f4e23c" stroke="none" stroke-width="1" rx="1.6"/><rect x="733.6" y="441.6" width="10.5" height="3.0" fill="#f4e23c" stroke="none" stroke-width="1" rx="1.6"/><rect x="749.8" y="441.6" width="10.5" height="3.0" fill="#f4e23c" stroke="none" stroke-width="1" rx="1.6"/><rect x="766.0" y="441.6" width="10.5" height="3.0" fill="#f4e23c" stroke="none" stroke-width="1" rx="1.6"/><rect x="782.2" y="441.6" width="10.5" height="3.0" fill="#f4e23c" stroke="none" stroke-width="1" rx="1.6"/><rect x="798.4" y="441.6" width="10.5" height="3.0" fill="#f4e23c" stroke="none" stroke-width="1" rx="1.6"/><rect x="792.4" y="586.4" width="24.6" height="27.0" fill="none" stroke="#333" stroke-width="0.8" stroke-dasharray="2,1"/><ellipse cx="798" cy="594" rx="2.2" ry="3.5" fill="#3d8a45" opacity="0.8"/><ellipse cx="803" cy="600" rx="3" ry="2" fill="#3d8a45" opacity="0.8"/><ellipse cx="797" cy="606" rx="2" ry="2.5" fill="#3d8a45" opacity="0.8"/><ellipse cx="808" cy="593" rx="2" ry="1.5" fill="#3d8a45" opacity="0.8"/><line x1="554.4" y1="27.8" x2="817.5" y2="27.8" stroke="#555" stroke-width="0.8" /><line x1="554.4" y1="35.9" x2="817.5" y2="35.9" stroke="#555" stroke-width="0.8" /><line x1="554.4" y1="25.8" x2="554.4" y2="39.9" stroke="#555" stroke-width="0.7" /><line x1="817.5" y1="25.8" x2="817.5" y2="39.9" stroke="#555" stroke-width="0.7" /><line x1="578.6" y1="32.9" x2="578.6" y2="38.9" stroke="#555" stroke-width="0.8" /><line x1="616.6" y1="32.9" x2="616.6" y2="38.9" stroke="#555" stroke-width="0.8" /><line x1="687.0" y1="32.9" x2="687.0" y2="38.9" stroke="#555" stroke-width="0.8" /><line x1="733.9" y1="32.9" x2="733.9" y2="38.9" stroke="#555" stroke-width="0.8" /><line x1="794.0" y1="32.9" x2="794.0" y2="38.9" stroke="#555" stroke-width="0.8" /><text x="686.0" y="26.3" font-size="4.5" fill="#555" text-anchor="middle">5162</text><text x="566.0" y="33.9" font-size="4.5" fill="#555" text-anchor="middle">6/10</text><text x="651.0" y="33.9" font-size="4.5" fill="#555" text-anchor="middle">6163</text><text x="762.0" y="33.9" font-size="4.5" fill="#555" text-anchor="middle">6/40</text><text x="805.0" y="33.9" font-size="4.5" fill="#555" text-anchor="middle">6/0</text><line x1="554.4" y1="628.4" x2="817.5" y2="628.4" stroke="#666" stroke-width="0.8" /><line x1="554.4" y1="626.4" x2="554.4" y2="630.4" stroke="#555" stroke-width="0.8" /><line x1="817.5" y1="626.4" x2="817.5" y2="630.4" stroke="#555" stroke-width="0.8" /><line x1="554.4" y1="635.9" x2="817.5" y2="635.9" stroke="#666" stroke-width="0.8" /><line x1="554.4" y1="633.9" x2="554.4" y2="637.9" stroke="#555" stroke-width="0.8" /><line x1="817.5" y1="633.9" x2="817.5" y2="637.9" stroke="#555" stroke-width="0.8" /><line x1="554.4" y1="642.4" x2="817.5" y2="642.4" stroke="#666" stroke-width="0.8" /><line x1="554.4" y1="640.4" x2="554.4" y2="644.4" stroke="#555" stroke-width="0.8" /><line x1="817.5" y1="640.4" x2="817.5" y2="644.4" stroke="#555" stroke-width="0.8" /><line x1="578.6" y1="625.4" x2="578.6" y2="630.4" stroke="#555" stroke-width="0.8" /><line x1="687.0" y1="625.4" x2="687.0" y2="630.4" stroke="#555" stroke-width="0.8" /><line x1="794.0" y1="625.4" x2="794.0" y2="630.4" stroke="#555" stroke-width="0.8" /><text x="566.0" y="626.4" font-size="4.5" fill="#555" text-anchor="middle">5/0</text><text x="641.0" y="626.4" font-size="4.5" fill="#555" text-anchor="middle">5/40</text><text x="740.0" y="626.4" font-size="4.5" fill="#555" text-anchor="middle">5/30</text><text x="806.0" y="626.4" font-size="4.5" fill="#555" text-anchor="middle">5/0</text><line x1="506.9" y1="44.8" x2="506.9" y2="613.0" stroke="#8a8a8a" stroke-width="0.9" /><line x1="504.9" y1="44.8" x2="509.9" y2="44.8" stroke="#555" stroke-width="0.8" /><line x1="513.7" y1="44.8" x2="513.7" y2="613.0" stroke="#8a8a8a" stroke-width="0.9" /><line x1="511.7" y1="44.8" x2="516.7" y2="44.8" stroke="#555" stroke-width="0.8" /><line x1="521.0" y1="44.8" x2="521.0" y2="613.0" stroke="#8a8a8a" stroke-width="0.9" /><line x1="519.0" y1="44.8" x2="524.0" y2="44.8" stroke="#555" stroke-width="0.8" /><line x1="532.4" y1="44.8" x2="532.4" y2="613.0" stroke="#777" stroke-width="0.9" /><line x1="529.4" y1="44.8" x2="535.4" y2="44.8" stroke="#444" stroke-width="1.0" /><line x1="529.4" y1="66.0" x2="535.4" y2="66.0" stroke="#444" stroke-width="1.0" /><line x1="529.4" y1="143.4" x2="535.4" y2="143.4" stroke="#444" stroke-width="1.0" /><line x1="529.4" y1="200.4" x2="535.4" y2="200.4" stroke="#444" stroke-width="1.0" /><line x1="529.4" y1="242.0" x2="535.4" y2="242.0" stroke="#444" stroke-width="1.0" /><line x1="529.4" y1="294.0" x2="535.4" y2="294.0" stroke="#444" stroke-width="1.0" /><line x1="529.4" y1="400.0" x2="535.4" y2="400.0" stroke="#444" stroke-width="1.0" /><line x1="529.4" y1="436.0" x2="535.4" y2="436.0" stroke="#444" stroke-width="1.0" /><line x1="529.4" y1="440.0" x2="535.4" y2="440.0" stroke="#444" stroke-width="1.0" /><line x1="529.4" y1="491.0" x2="535.4" y2="491.0" stroke="#444" stroke-width="1.0" /><line x1="529.4" y1="587.5" x2="535.4" y2="587.5" stroke="#444" stroke-width="1.0" /><line x1="529.4" y1="613.0" x2="535.4" y2="613.0" stroke="#444" stroke-width="1.0" /><text transform="translate(530.0,54.0) rotate(-90)" font-size="4.5" fill="#555" text-anchor="middle">1/40</text><text transform="translate(530.0,104.0) rotate(-90)" font-size="4.5" fill="#555" text-anchor="middle">6/40</text><text transform="translate(530.0,170.0) rotate(-90)" font-size="4.5" fill="#555" text-anchor="middle">5/20</text><text transform="translate(530.0,230.0) rotate(-90)" font-size="4.5" fill="#555" text-anchor="middle">1/40</text><text transform="translate(530.0,346.0) rotate(-90)" font-size="4.5" fill="#555" text-anchor="middle">6/60</text><text transform="translate(510.0,353.0) rotate(-90)" font-size="4.5" fill="#555" text-anchor="middle">1240</text><text transform="translate(517.0,346.0) rotate(-90)" font-size="4.5" fill="#555" text-anchor="middle">6/60</text><text transform="translate(524.0,346.0) rotate(-90)" font-size="4.5" fill="#555" text-anchor="middle">6/0</text><text transform="translate(530.0,420.0) rotate(-90)" font-size="4.5" fill="#555" text-anchor="middle">1/70</text><text transform="translate(530.0,515.0) rotate(-90)" font-size="4.5" fill="#555" text-anchor="middle">5/20</text><text transform="translate(517.0,520.0) rotate(-90)" font-size="4.5" fill="#555" text-anchor="middle">5/20</text><text transform="translate(530.0,600.0) rotate(-90)" font-size="4.5" fill="#555" text-anchor="middle">1/10</text><text transform="translate(517.0,600.0) rotate(-90)" font-size="4.5" fill="#555" text-anchor="middle">1/10</text><rect x="505.8" y="618.5" width="35.5" height="9.5" fill="#fff" stroke="#777" stroke-width="0.6" /><rect x="545.5" y="212.0" width="9.0" height="19.0" fill="#ffffff" stroke="none" stroke-width="1" /><line x1="546.5" y1="212.0" x2="554.5" y2="212.0" stroke="#222" stroke-width="1.1" /><line x1="545.5" y1="231.0" x2="554.5" y2="231.0" stroke="#222" stroke-width="1.1" /><path d="M547.5,212 Q549.1,220.55 554.5,222.45" stroke="#333" stroke-width="0.8" fill="none" /><line x1="548.0" y1="220.6" x2="548.0" y2="231.0" stroke="#555" stroke-width="0.7" stroke-dasharray="1.2,0.8"/><rect x="552.5" y="311.0" width="9.0" height="18.0" fill="#ffffff" stroke="none" stroke-width="1" opacity="0.35"/><rect x="543.5" y="311.0" width="9.0" height="18.0" fill="#ffffff" stroke="none" stroke-width="1" /><line x1="543.5" y1="311.0" x2="561.5" y2="311.0" stroke="#222" stroke-width="1.3" /><line x1="543.5" y1="329.0" x2="561.5" y2="329.0" stroke="#222" stroke-width="1.3" /><line x1="544.0" y1="311.0" x2="544.0" y2="329.0" stroke="#444" stroke-width="0.8" /><line x1="561.0" y1="311.0" x2="561.0" y2="329.0" stroke="#333" stroke-width="0.7" stroke-dasharray="1.5,1"/><path d="M545.0,313 L551.06,320.0 L545.0,327" stroke="#444" stroke-width="0.8" fill="none" /><rect x="818.0" y="311.0" width="9.0" height="18.0" fill="#ffffff" stroke="none" stroke-width="1" opacity="0.35"/><rect x="809.0" y="311.0" width="9.0" height="18.0" fill="#ffffff" stroke="none" stroke-width="1" /><line x1="809.0" y1="311.0" x2="827.0" y2="311.0" stroke="#222" stroke-width="1.3" /><line x1="809.0" y1="329.0" x2="827.0" y2="329.0" stroke="#222" stroke-width="1.3" /><line x1="809.5" y1="311.0" x2="809.5" y2="329.0" stroke="#444" stroke-width="0.8" /><line x1="826.5" y1="311.0" x2="826.5" y2="329.0" stroke="#333" stroke-width="0.7" stroke-dasharray="1.5,1"/><path d="M810.5,313 L816.56,320.0 L810.5,327" stroke="#444" stroke-width="0.8" fill="none" /><rect x="545.5" y="408.0" width="8.0" height="18.0" fill="#ffffff" stroke="none" stroke-width="1" /><line x1="546.5" y1="408.0" x2="553.5" y2="408.0" stroke="#222" stroke-width="1.1" /><line x1="545.5" y1="426.0" x2="553.5" y2="426.0" stroke="#222" stroke-width="1.1" /><path d="M547.5,408 Q548.7,416.1 553.5,417.9" stroke="#333" stroke-width="0.8" fill="none" /><line x1="548.0" y1="416.1" x2="548.0" y2="426.0" stroke="#555" stroke-width="0.7" stroke-dasharray="1.2,0.8"/><line x1="817.5" y1="66.4" x2="840.0" y2="66.4" stroke="#777" stroke-width="0.9" /><line x1="817.5" y1="76.6" x2="840.0" y2="76.6" stroke="#777" stroke-width="0.9" /><line x1="817.5" y1="86.8" x2="840.0" y2="86.8" stroke="#777" stroke-width="0.9" /><line x1="817.5" y1="97.0" x2="840.0" y2="97.0" stroke="#777" stroke-width="0.9" /><line x1="817.5" y1="107.2" x2="840.0" y2="107.2" stroke="#777" stroke-width="0.9" /><line x1="817.5" y1="117.4" x2="840.0" y2="117.4" stroke="#777" stroke-width="0.9" /><line x1="817.5" y1="127.6" x2="840.0" y2="127.6" stroke="#777" stroke-width="0.9" /><line x1="817.5" y1="137.8" x2="840.0" y2="137.8" stroke="#777" stroke-width="0.9" /><line x1="817.5" y1="151.3" x2="840.0" y2="151.3" stroke="#777" stroke-width="0.9" /><line x1="817.5" y1="161.5" x2="840.0" y2="161.5" stroke="#777" stroke-width="0.9" /><line x1="817.5" y1="171.7" x2="840.0" y2="171.7" stroke="#777" stroke-width="0.9" /><line x1="817.5" y1="181.9" x2="840.0" y2="181.9" stroke="#777" stroke-width="0.9" /><line x1="817.5" y1="192.1" x2="840.0" y2="192.1" stroke="#777" stroke-width="0.9" /><line x1="817.5" y1="202.3" x2="840.0" y2="202.3" stroke="#777" stroke-width="0.9" /><line x1="817.5" y1="212.5" x2="840.0" y2="212.5" stroke="#777" stroke-width="0.9" /><line x1="817.5" y1="222.7" x2="840.0" y2="222.7" stroke="#777" stroke-width="0.9" /><line x1="817.5" y1="232.9" x2="840.0" y2="232.9" stroke="#777" stroke-width="0.9" /><line x1="817.5" y1="243.1" x2="840.0" y2="243.1" stroke="#777" stroke-width="0.9" /><line x1="817.5" y1="253.3" x2="840.0" y2="253.3" stroke="#777" stroke-width="0.9" /><line x1="817.5" y1="263.5" x2="840.0" y2="263.5" stroke="#777" stroke-width="0.9" /><line x1="817.5" y1="273.7" x2="840.0" y2="273.7" stroke="#777" stroke-width="0.9" /><line x1="817.5" y1="355.0" x2="840.0" y2="355.0" stroke="#777" stroke-width="0.9" /><line x1="817.5" y1="365.2" x2="840.0" y2="365.2" stroke="#777" stroke-width="0.9" /><line x1="817.5" y1="375.4" x2="840.0" y2="375.4" stroke="#777" stroke-width="0.9" /><line x1="817.5" y1="385.6" x2="840.0" y2="385.6" stroke="#777" stroke-width="0.9" /><line x1="817.5" y1="395.8" x2="840.0" y2="395.8" stroke="#777" stroke-width="0.9" /><line x1="817.5" y1="406.0" x2="840.0" y2="406.0" stroke="#777" stroke-width="0.9" /><line x1="817.5" y1="416.2" x2="840.0" y2="416.2" stroke="#777" stroke-width="0.9" /><line x1="817.5" y1="426.4" x2="840.0" y2="426.4" stroke="#777" stroke-width="0.9" /><line x1="817.5" y1="449.5" x2="840.0" y2="449.5" stroke="#777" stroke-width="0.9" /><line x1="817.5" y1="459.9" x2="840.0" y2="459.9" stroke="#777" stroke-width="0.9" /><line x1="817.5" y1="470.2" x2="840.0" y2="470.2" stroke="#777" stroke-width="0.9" /><line x1="817.5" y1="480.6" x2="840.0" y2="480.6" stroke="#777" stroke-width="0.9" /><line x1="817.5" y1="495.8" x2="840.0" y2="495.8" stroke="#777" stroke-width="0.9" /><line x1="817.5" y1="506.2" x2="840.0" y2="506.2" stroke="#777" stroke-width="0.9" /><line x1="817.5" y1="516.7" x2="840.0" y2="516.7" stroke="#777" stroke-width="0.9" /><line x1="817.5" y1="527.1" x2="840.0" y2="527.1" stroke="#777" stroke-width="0.9" /><line x1="817.5" y1="537.6" x2="840.0" y2="537.6" stroke="#777" stroke-width="0.9" /><line x1="817.5" y1="548.0" x2="840.0" y2="548.0" stroke="#777" stroke-width="0.9" /><line x1="817.5" y1="558.5" x2="840.0" y2="558.5" stroke="#777" stroke-width="0.9" /><line x1="817.5" y1="569.0" x2="840.0" y2="569.0" stroke="#777" stroke-width="0.9" /><line x1="817.5" y1="579.5" x2="840.0" y2="579.5" stroke="#777" stroke-width="0.9" /><text transform="translate(822.0,74.9) rotate(-90)" font-size="3.6" fill="#999" textLength="7" lengthAdjust="spacingAndGlyphs">1/40</text><text transform="translate(822.0,85.1) rotate(-90)" font-size="3.6" fill="#999" textLength="7" lengthAdjust="spacingAndGlyphs">1/40</text><text transform="translate(822.0,95.3) rotate(-90)" font-size="3.6" fill="#999" textLength="7" lengthAdjust="spacingAndGlyphs">1/40</text><text transform="translate(822.0,105.5) rotate(-90)" font-size="3.6" fill="#999" textLength="7" lengthAdjust="spacingAndGlyphs">1/40</text><text transform="translate(822.0,115.7) rotate(-90)" font-size="3.6" fill="#999" textLength="7" lengthAdjust="spacingAndGlyphs">1/40</text><text transform="translate(822.0,125.9) rotate(-90)" font-size="3.6" fill="#999" textLength="7" lengthAdjust="spacingAndGlyphs">1/40</text><text transform="translate(822.0,136.1) rotate(-90)" font-size="3.6" fill="#999" textLength="7" lengthAdjust="spacingAndGlyphs">1/40</text><text transform="translate(822.0,159.8) rotate(-90)" font-size="3.6" fill="#999" textLength="7" lengthAdjust="spacingAndGlyphs">1/40</text><text transform="translate(822.0,170.0) rotate(-90)" font-size="3.6" fill="#999" textLength="7" lengthAdjust="spacingAndGlyphs">1/40</text><text transform="translate(822.0,180.2) rotate(-90)" font-size="3.6" fill="#999" textLength="7" lengthAdjust="spacingAndGlyphs">1/40</text><text transform="translate(822.0,190.4) rotate(-90)" font-size="3.6" fill="#999" textLength="7" lengthAdjust="spacingAndGlyphs">1/40</text><text transform="translate(822.0,200.6) rotate(-90)" font-size="3.6" fill="#999" textLength="7" lengthAdjust="spacingAndGlyphs">1/40</text><text transform="translate(822.0,210.8) rotate(-90)" font-size="3.6" fill="#999" textLength="7" lengthAdjust="spacingAndGlyphs">1/40</text><text transform="translate(822.0,221.0) rotate(-90)" font-size="3.6" fill="#999" textLength="7" lengthAdjust="spacingAndGlyphs">1/40</text><text transform="translate(822.0,231.2) rotate(-90)" font-size="3.6" fill="#999" textLength="7" lengthAdjust="spacingAndGlyphs">1/40</text><text transform="translate(822.0,241.4) rotate(-90)" font-size="3.6" fill="#999" textLength="7" lengthAdjust="spacingAndGlyphs">1/40</text><text transform="translate(822.0,251.6) rotate(-90)" font-size="3.6" fill="#999" textLength="7" lengthAdjust="spacingAndGlyphs">1/40</text><text transform="translate(822.0,261.8) rotate(-90)" font-size="3.6" fill="#999" textLength="7" lengthAdjust="spacingAndGlyphs">1/40</text><text transform="translate(822.0,272.0) rotate(-90)" font-size="3.6" fill="#999" textLength="7" lengthAdjust="spacingAndGlyphs">1/40</text><text transform="translate(822.0,363.5) rotate(-90)" font-size="3.6" fill="#999" textLength="7" lengthAdjust="spacingAndGlyphs">1/40</text><text transform="translate(822.0,373.7) rotate(-90)" font-size="3.6" fill="#999" textLength="7" lengthAdjust="spacingAndGlyphs">1/40</text><text transform="translate(822.0,383.9) rotate(-90)" font-size="3.6" fill="#999" textLength="7" lengthAdjust="spacingAndGlyphs">1/40</text><text transform="translate(822.0,394.1) rotate(-90)" font-size="3.6" fill="#999" textLength="7" lengthAdjust="spacingAndGlyphs">1/40</text><text transform="translate(822.0,404.3) rotate(-90)" font-size="3.6" fill="#999" textLength="7" lengthAdjust="spacingAndGlyphs">1/40</text><text transform="translate(822.0,414.5) rotate(-90)" font-size="3.6" fill="#999" textLength="7" lengthAdjust="spacingAndGlyphs">1/40</text><text transform="translate(822.0,424.7) rotate(-90)" font-size="3.6" fill="#999" textLength="7" lengthAdjust="spacingAndGlyphs">1/40</text><text transform="translate(822.0,458.0) rotate(-90)" font-size="3.6" fill="#999" textLength="7" lengthAdjust="spacingAndGlyphs">1/40</text><text transform="translate(822.0,468.4) rotate(-90)" font-size="3.6" fill="#999" textLength="7" lengthAdjust="spacingAndGlyphs">1/40</text><text transform="translate(822.0,478.7) rotate(-90)" font-size="3.6" fill="#999" textLength="7" lengthAdjust="spacingAndGlyphs">1/40</text><text transform="translate(822.0,504.3) rotate(-90)" font-size="3.6" fill="#999" textLength="7" lengthAdjust="spacingAndGlyphs">1/40</text><text transform="translate(822.0,514.7) rotate(-90)" font-size="3.6" fill="#999" textLength="7" lengthAdjust="spacingAndGlyphs">1/40</text><text transform="translate(822.0,525.2) rotate(-90)" font-size="3.6" fill="#999" textLength="7" lengthAdjust="spacingAndGlyphs">1/40</text><text transform="translate(822.0,535.6) rotate(-90)" font-size="3.6" fill="#999" textLength="7" lengthAdjust="spacingAndGlyphs">1/40</text><text transform="translate(822.0,546.1) rotate(-90)" font-size="3.6" fill="#999" textLength="7" lengthAdjust="spacingAndGlyphs">1/40</text><text transform="translate(822.0,556.5) rotate(-90)" font-size="3.6" fill="#999" textLength="7" lengthAdjust="spacingAndGlyphs">1/40</text><text transform="translate(822.0,567.0) rotate(-90)" font-size="3.6" fill="#999" textLength="7" lengthAdjust="spacingAndGlyphs">1/40</text><text transform="translate(822.0,577.5) rotate(-90)" font-size="3.6" fill="#999" textLength="7" lengthAdjust="spacingAndGlyphs">1/40</text><g transform="translate(627.4,282.2)"><rect x="0.8" y="32.7" width="24.2" height="7.0" rx="3.3" fill="none" stroke="#1e1e1e" stroke-width="1.3499999999999999"/><line x1="2.8" y1="36.2" x2="23.0" y2="36.2" stroke="#1e1e1e" stroke-width="0.9" stroke-dasharray="1.2,0.6"/><path d="M1.6,32.7 L1.6,26.2 Q1.6,24.5 4.0,24.5 L17.7,24.5 L20.2,32.7" fill="none" stroke="#1e1e1e" stroke-width="1.15"/><path d="M8.9,27.0 L36.3,0.8 L38.3,2.9 L13.7,28.6" fill="none" stroke="#1e1e1e" stroke-width="1.15"/><path d="M8.9,27.0 L13.7,28.6 L12.8,23.3 M16.7,19.5 L20.7,21.3 L20.6,15.8 M24.5,12.0 L27.7,13.9 L28.4,8.3 M32.4,4.6 L34.8,6.5 L36.3,0.8 " fill="none" stroke="#1e1e1e" stroke-width="0.6"/><path d="M37.5,2.0 L37.5,17.2" stroke="#1e1e1e" stroke-width="0.9"/><ellipse cx="37.5" cy="18.8" rx="1.6" ry="2.0" fill="none" stroke="#1e1e1e" stroke-width="0.9"/></g><g transform="translate(733.2,292.4)"><rect x="0.6" y="24.6" width="18.8" height="5.2" rx="2.5" fill="none" stroke="#1e1e1e" stroke-width="1.3499999999999999"/><line x1="2.2" y1="27.2" x2="17.9" y2="27.2" stroke="#1e1e1e" stroke-width="0.9" stroke-dasharray="1.2,0.6"/><path d="M1.3,24.6 L1.3,19.6 Q1.3,18.4 3.1,18.4 L13.8,18.4 L15.7,24.6" fill="none" stroke="#1e1e1e" stroke-width="1.15"/><path d="M6.9,20.3 L28.3,0.6 L29.8,2.1 L10.7,21.5" fill="none" stroke="#1e1e1e" stroke-width="1.15"/><path d="M6.9,20.3 L10.7,21.5 L10.0,17.5 M13.0,14.6 L16.1,16.0 L16.1,11.8 M19.1,9.0 L21.6,10.4 L22.2,6.2 M25.2,3.4 L27.1,4.9 L28.3,0.6 " fill="none" stroke="#1e1e1e" stroke-width="0.6"/><path d="M29.2,1.5 L29.2,12.9" stroke="#1e1e1e" stroke-width="0.9"/><ellipse cx="29.2" cy="14.1" rx="1.3" ry="1.5" fill="none" stroke="#1e1e1e" stroke-width="0.9"/></g><g transform="translate(740.0,385.6) scale(-1,1)"><rect x="0.6" y="22.7" width="17.4" height="4.8" rx="2.3" fill="none" stroke="#1e1e1e" stroke-width="1.3499999999999999"/><line x1="2.0" y1="25.1" x2="16.5" y2="25.1" stroke="#1e1e1e" stroke-width="0.9" stroke-dasharray="1.2,0.6"/><path d="M1.2,22.7 L1.2,18.2 Q1.2,17.0 2.9,17.0 L12.8,17.0 L14.5,22.7" fill="none" stroke="#1e1e1e" stroke-width="1.15"/><path d="M6.4,18.7 L26.1,0.6 L27.5,2.0 L9.9,19.9" fill="none" stroke="#1e1e1e" stroke-width="1.15"/><path d="M6.4,18.7 L9.9,19.9 L9.2,16.1 M12.0,13.6 L14.9,14.8 L14.8,11.0 M17.6,8.4 L20.0,9.7 L20.5,5.8 M23.3,3.2 L25.0,4.5 L26.1,0.6 " fill="none" stroke="#1e1e1e" stroke-width="0.6"/><path d="M27.0,1.4 L27.0,11.9" stroke="#1e1e1e" stroke-width="0.9"/><ellipse cx="27.0" cy="13.1" rx="1.3" ry="1.4" fill="none" stroke="#1e1e1e" stroke-width="0.9"/></g><g transform="translate(598.3,252.4)"><rect x="0" y="0" width="13.3" height="8.6" fill="none" stroke="#222" stroke-width="1.1"/><path d="M13.8,2.4 L18.3,2.4 L21.1,6.0 L21.1,9.4 L13.8,9.4 Z" fill="none" stroke="#222" stroke-width="1.1"/><circle cx="3.9" cy="9.8" r="1.8" fill="#f89c99" stroke="#222" stroke-width="1"/><circle cx="9.7" cy="9.8" r="1.8" fill="#f89c99" stroke="#222" stroke-width="1"/><circle cx="17.6" cy="9.8" r="1.8" fill="#f89c99" stroke="#222" stroke-width="1"/></g><g transform="translate(623.3,267.8)"><path d="M1.0,10.4 L2.0,6.9 L12.2,6.0 L13.7,0.7 L21.6,0.7 L23.3,7.2 L23.3,10.4" fill="none" stroke="#1e1e1e" stroke-width="1.15"/><rect x="15.2" y="2.0" width="4.9" height="3.2" fill="none" stroke="#1e1e1e" stroke-width="0.8"/><circle cx="4.9" cy="11.2" r="2.4" fill="none" stroke="#1e1e1e" stroke-width="1.1"/><circle cx="10.3" cy="11.5" r="2.2" fill="none" stroke="#1e1e1e" stroke-width="1.1"/><circle cx="18.6" cy="10.7" r="3.5" fill="none" stroke="#1e1e1e" stroke-width="1.2"/></g><g transform="translate(662.2,386.7)"><rect x="0" y="0" width="13.3" height="9.6" fill="none" stroke="#222" stroke-width="1.1"/><path d="M13.8,2.7 L18.3,2.7 L21.1,6.7 L21.1,10.4 L13.8,10.4 Z" fill="none" stroke="#222" stroke-width="1.1"/><circle cx="3.9" cy="10.9" r="2.0" fill="#f89c99" stroke="#222" stroke-width="1"/><circle cx="9.7" cy="10.9" r="2.0" fill="#f89c99" stroke="#222" stroke-width="1"/><circle cx="17.6" cy="10.9" r="2.0" fill="#f89c99" stroke="#222" stroke-width="1"/></g><g transform="translate(612.0,416.4) scale(-1,1)"><path d="M1.0,9.1 L2.0,6.0 L12.8,5.3 L14.3,0.6 L22.5,0.6 L24.3,6.3 L24.3,9.1" fill="none" stroke="#1e1e1e" stroke-width="1.15"/><rect x="15.9" y="1.8" width="5.1" height="2.8" fill="none" stroke="#1e1e1e" stroke-width="0.8"/><circle cx="5.1" cy="9.8" r="2.1" fill="none" stroke="#1e1e1e" stroke-width="1.1"/><circle cx="10.8" cy="10.1" r="1.9" fill="none" stroke="#1e1e1e" stroke-width="1.1"/><circle cx="19.5" cy="9.3" r="3.0" fill="none" stroke="#1e1e1e" stroke-width="1.2"/></g><text x="602.9" y="149.6" font-size="14" font-weight="bold" fill="#141414" textLength="166.3" lengthAdjust="spacingAndGlyphs" >FROZEN STORAGE &amp; PHARMA</text><text x="642.2" y="164.6" font-size="14" font-weight="bold" fill="#141414" textLength="87.5" lengthAdjust="spacingAndGlyphs" >(OPERATIONAL)</text><text x="693.3" y="258.0" font-size="8.2" font-weight="bold" fill="#141414" textLength="60.4" lengthAdjust="spacingAndGlyphs" >CONSTRUCTION</text><text x="695.0" y="267.9" font-size="8.2" font-weight="bold" fill="#141414" textLength="57.0" lengthAdjust="spacingAndGlyphs" >STAGING AREX</text><text x="601.7" y="351.6" font-size="13.4" font-weight="bold" fill="#141414" textLength="169.1" lengthAdjust="spacingAndGlyphs" >AMBIENT HIGH-BAY &amp; HAZMAT</text><text x="616.2" y="365.6" font-size="13.4" font-weight="bold" fill="#141414" textLength="140.0" lengthAdjust="spacingAndGlyphs" >(UNDER CONSTRUCTION)</text><text x="649.3" y="516.3" font-size="13" font-weight="bold" fill="#141414" textLength="74.4" lengthAdjust="spacingAndGlyphs" >AMBER ZONE</text><text x="585.0" y="531.3" font-size="13" font-weight="bold" fill="#141414" textLength="203.0" lengthAdjust="spacingAndGlyphs" >(PARTIAL RELOCATED OPERATIONS)</text><text x="845.9" y="234.5" font-size="9.6" font-weight="bold" fill="#141414" textLength="47.7" lengthAdjust="spacingAndGlyphs" >TEMPORARY</text><text x="849.3" y="244.4" font-size="9.6" font-weight="bold" fill="#141414" textLength="41.0" lengthAdjust="spacingAndGlyphs" >LOGIETICS</text><text x="852.8" y="254.3" font-size="9.6" font-weight="bold" fill="#141414" textLength="34.0" lengthAdjust="spacingAndGlyphs" >RCUTES</text><text x="854.4" y="353.1" font-size="9.6" font-weight="bold" fill="#141414" textLength="31.7" lengthAdjust="spacingAndGlyphs" >INTERIM</text><text x="853.3" y="363.3" font-size="9.6" font-weight="bold" fill="#141414" textLength="34.0" lengthAdjust="spacingAndGlyphs" >LOAOING</text><text x="855.8" y="372.9" font-size="9.6" font-weight="bold" fill="#141414" textLength="29.0" lengthAdjust="spacingAndGlyphs" >DOCKS</text><text x="854.4" y="475.3" font-size="9.6" font-weight="bold" fill="#141414" textLength="31.7" lengthAdjust="spacingAndGlyphs" >INTERIM</text><text x="853.3" y="485.2" font-size="9.6" font-weight="bold" fill="#141414" textLength="34.0" lengthAdjust="spacingAndGlyphs" >LOADING</text><text x="855.8" y="495.4" font-size="9.6" font-weight="bold" fill="#141414" textLength="29.0" lengthAdjust="spacingAndGlyphs" >DOCNB</text><text x="660.9" y="705.0" font-size="16.3" font-weight="bold" fill="#141414" textLength="54.7" lengthAdjust="spacingAndGlyphs" >PHASE 2</text><text x="652.3" y="720.4" font-size="14.2" font-weight="bold" fill="#141414" textLength="71.8" lengthAdjust="spacingAndGlyphs" >(Months 7-12)</text><rect x="818.1" y="666.5" width="82.1" height="80.3" fill="#fff" stroke="#777" stroke-width="0.9" /><text x="821.1" y="676.5" font-size="8.5" font-weight="bold" fill="#1a1a1a" textLength="29" lengthAdjust="spacingAndGlyphs">LEGEND:</text><rect x="820.1" y="678.3" width="19.5" height="6.8" fill="#f89c99" stroke="#c33" stroke-width="0.9" /><rect x="824.1" y="680.1" width="11.0" height="3.2" fill="#a22" stroke="none" stroke-width="1" opacity="0.75"/><rect x="820.1" y="686.9" width="19.5" height="6.8" fill="#6fb37a" stroke="#2a6a35" stroke-width="0.9" /><rect x="824.1" y="688.7" width="11.0" height="3.2" fill="#1d4a25" stroke="none" stroke-width="1" opacity="0.75"/><rect x="820.1" y="695.4" width="19.5" height="6.8" fill="#f0e040" stroke="#c8b800" stroke-width="0.9" /><rect x="824.1" y="697.2" width="11.0" height="3.2" fill="#5a5a10" stroke="none" stroke-width="1" opacity="0.75"/><text x="842.1" y="684.2" font-size="7" font-weight="bold" fill="#262626" textLength="52.5" lengthAdjust="spacingAndGlyphs">• UNDER CONSTRUCTION</text><text x="842.1" y="692.7" font-size="7" font-weight="bold" fill="#262626" textLength="34.0" lengthAdjust="spacingAndGlyphs">• OPERATIONAL</text><text x="842.1" y="701.2" font-size="7" font-weight="bold" fill="#262626" textLength="56.0" lengthAdjust="spacingAndGlyphs">• TEMPORARY/RELOCATED</text><text x="842.1" y="709.7" font-size="7" font-weight="bold" fill="#262626" textLength="33.0" lengthAdjust="spacingAndGlyphs">SOCIAL SYMBOL</text><text x="842.1" y="718.2" font-size="7" font-weight="bold" fill="#262626" textLength="32.0" lengthAdjust="spacingAndGlyphs">ENTRANCE SIGN</text><text x="842.1" y="726.7" font-size="7" font-weight="bold" fill="#262626" textLength="36.0" lengthAdjust="spacingAndGlyphs">SAFETY BARRIER</text><text x="842.1" y="735.2" font-size="7" font-weight="bold" fill="#262626" textLength="36.0" lengthAdjust="spacingAndGlyphs">DELIVERY ROUTE</text><text x="842.1" y="743.7" font-size="7" font-weight="bold" fill="#262626" textLength="38.0" lengthAdjust="spacingAndGlyphs">LOGISTICS ROUTE</text><path d="M825.1,720.2 L837.1,720.2 L835.1,715.2 L827.1,715.2 Z M829.1,715.2 L829.6,709.2 Q831.1,706.2 832.6,709.2 L833.1,715.2 M827.1,717.7 L835.1,717.7" stroke="#222" stroke-width="1.0" fill="none" /><rect x="822.1" y="722.9" width="6.0" height="2.6" fill="#f0ea50" stroke="none" stroke-width="1" /><rect x="831.1" y="722.9" width="6.0" height="2.6" fill="#f0ea50" stroke="none" stroke-width="1" /><line x1="822.1" y1="732.7" x2="833.1" y2="732.7" stroke="#1f4f9c" stroke-width="2.6" /><path d="M838.1,732.7 L832.1,729.5 L832.1,735.9000000000001 Z" stroke="none" stroke-width="1" fill="#1f4f9c" /><line x1="822.1" y1="741.2" x2="833.1" y2="741.2" stroke="#c88a30" stroke-width="2.6" /><path d="M838.1,741.2 L832.1,738.0 L832.1,744.4000000000001 Z" stroke="#9e6c1c" stroke-width="0.6" fill="#e5a440" /><rect x="490.8" y="734.9" width="105.1" height="5.0" fill="#fff" stroke="#222" stroke-width="0.8" /><rect x="490.8" y="734.9" width="12.6" height="2.5" fill="#111" stroke="none" stroke-width="1" /><rect x="511.8" y="734.9" width="10.5" height="2.5" fill="#111" stroke="none" stroke-width="1" /><rect x="543.4" y="734.9" width="52.5" height="2.5" fill="#111" stroke="none" stroke-width="1" /><rect x="503.4" y="737.4" width="8.4" height="2.5" fill="#111" stroke="none" stroke-width="1" /><rect x="519.2" y="737.4" width="24.2" height="2.5" fill="#111" stroke="none" stroke-width="1" /><text x="490.8" y="733.4" font-size="4" fill="#333" text-anchor="middle">0</text><text x="511.8" y="733.4" font-size="4" fill="#333" text-anchor="middle">100</text><text x="538.1" y="733.4" font-size="4" fill="#333" text-anchor="middle">1200</text><text x="595.9" y="733.4" font-size="4" fill="#333" text-anchor="middle">1500</text><text x="490.8" y="746.4" font-size="7" font-weight="bold" fill="#333" textLength="26" lengthAdjust="spacingAndGlyphs">SCALE 1:500</text><path d="M781.5,225.3 Q784,233 790,234.8 L817,234.8 M817,244.2 L843,244.2" stroke="#a8c840" stroke-width="1.3" fill="none" /><path d="M512.9,245.6 L512.9,258.1 Q512.9,266.1 520.9,266.1 L563.7,266.1" stroke="#1f4f9c" stroke-width="4.1" fill="none" stroke-linecap="butt"/><path d="M512.9,245.6 L512.9,258.1 Q512.9,266.1 520.9,266.1 L563.7,266.1" stroke="#2f6ec6" stroke-width="2.5" fill="none" stroke-linecap="butt"/><path d="M569.3,266.1 L561.3,270.6 L563.3,266.1 L561.3,261.6 Z" fill="#2f6ec6" stroke="#1f4f9c" stroke-width="0.9"/><path d="M499.3,276.4 L546.6,276.4" stroke="#1f4f9c" stroke-width="4.1" fill="none" stroke-linecap="butt"/><path d="M499.3,276.4 L546.6,276.4" stroke="#2f6ec6" stroke-width="2.5" fill="none" stroke-linecap="butt"/><path d="M552.2,276.4 L544.2,280.9 L546.2,276.4 L544.2,271.9 Z" fill="#2f6ec6" stroke="#1f4f9c" stroke-width="0.9"/><path d="M512.9,310.5 L512.9,293.6 Q512.9,285.6 520.9,285.6 L563.7,285.6" stroke="#1f4f9c" stroke-width="4.1" fill="none" stroke-linecap="butt"/><path d="M512.9,310.5 L512.9,293.6 Q512.9,285.6 520.9,285.6 L563.7,285.6" stroke="#2f6ec6" stroke-width="2.5" fill="none" stroke-linecap="butt"/><path d="M569.3,285.6 L561.3,290.1 L563.3,285.6 L561.3,281.1 Z" fill="#2f6ec6" stroke="#1f4f9c" stroke-width="0.9"/><path d="M649.4,218.9 L649.4,253.6" stroke="#1f4f9c" stroke-width="4.1" fill="none" stroke-linecap="butt"/><path d="M649.4,218.9 L649.4,253.6" stroke="#2f6ec6" stroke-width="2.5" fill="none" stroke-linecap="butt"/><path d="M649.4,259.2 L644.9,251.2 L649.4,253.2 L653.9,251.2 Z" fill="#2f6ec6" stroke="#1f4f9c" stroke-width="0.9"/><path d="M662.0,466.4 L662.0,430.3" stroke="#1f4f9c" stroke-width="4.1" fill="none" stroke-linecap="butt"/><path d="M662.0,466.4 L662.0,430.3" stroke="#2f6ec6" stroke-width="2.5" fill="none" stroke-linecap="butt"/><path d="M662.0,424.7 L666.5,432.7 L662.0,430.7 L657.5,432.7 Z" fill="#2f6ec6" stroke="#1f4f9c" stroke-width="0.9"/><path d="M664.3,259.6 L664.3,226.3 Q664.3,220.3 670.3,220.3 L829.7,220.3 Q835.7,220.3 835.7,226.3 L835.7,261.8 Q835.7,267.8 829.7,267.8 L785.6,267.8 Q780.0,267.8 776.2,271.9 L776.0,272.1" stroke="#9e6c1c" stroke-width="4.1" fill="none" stroke-linecap="butt"/><path d="M664.3,259.6 L664.3,226.3 Q664.3,220.3 670.3,220.3 L829.7,220.3 Q835.7,220.3 835.7,226.3 L835.7,261.8 Q835.7,267.8 829.7,267.8 L785.6,267.8 Q780.0,267.8 776.2,271.9 L776.0,272.1" stroke="#e5a440" stroke-width="2.5" fill="none" stroke-linecap="butt"/><path d="M664.3,259.6 L664.3,226.3 Q664.3,220.3 670.3,220.3 L829.7,220.3 Q835.7,220.3 835.7,226.3 L835.7,261.8 Q835.7,267.8 829.7,267.8 L785.6,267.8 Q780.0,267.8 776.2,271.9 L776.0,272.1" stroke="#f2c27a" stroke-width="0.9" fill="none" stroke-linecap="butt"/><path d="M772.5,276.0 L774.4,267.6 L776.2,271.9 L780.7,273.3 Z" fill="#e5a440" stroke="#9e6c1c" stroke-width="0.9"/><path d="M777.6,220.3 L777.6,250.8" stroke="#9e6c1c" stroke-width="4.1" fill="none" stroke-linecap="butt"/><path d="M777.6,220.3 L777.6,250.8" stroke="#e5a440" stroke-width="2.5" fill="none" stroke-linecap="butt"/><path d="M777.6,220.3 L777.6,250.8" stroke="#f2c27a" stroke-width="0.9" fill="none" stroke-linecap="butt"/><path d="M777.6,256.0 L773.4,248.5 L777.6,250.5 L781.9,248.5 Z" fill="#e5a440" stroke="#9e6c1c" stroke-width="0.9"/><path d="M775.9,301.3 L775.9,463.5" stroke="#9e6c1c" stroke-width="4.1" fill="none" stroke-linejoin="round"/><path d="M775.9,301.3 L775.9,463.5" stroke="#e5a440" stroke-width="2.5" fill="none" stroke-linejoin="round"/><path d="M775.9,301.3 L775.9,463.5" stroke="#f2c27a" stroke-width="0.9" fill="none" stroke-linejoin="round"/><path d="M775.9,369.2 L827.0,369.2" stroke="#9e6c1c" stroke-width="4.1" fill="none" stroke-linecap="butt"/><path d="M775.9,369.2 L827.0,369.2" stroke="#e5a440" stroke-width="2.5" fill="none" stroke-linecap="butt"/><path d="M775.9,369.2 L827.0,369.2" stroke="#f2c27a" stroke-width="0.9" fill="none" stroke-linecap="butt"/><path d="M832.3,369.2 L824.8,373.4 L826.8,369.2 L824.8,364.9 Z" fill="#e5a440" stroke="#9e6c1c" stroke-width="0.9"/><path d="M775.9,463.5 L833.0,463.5" stroke="#9e6c1c" stroke-width="4.1" fill="none" stroke-linecap="butt"/><path d="M775.9,463.5 L833.0,463.5" stroke="#e5a440" stroke-width="2.5" fill="none" stroke-linecap="butt"/><path d="M775.9,463.5 L833.0,463.5" stroke="#f2c27a" stroke-width="0.9" fill="none" stroke-linecap="butt"/><path d="M838.2,463.5 L830.7,467.8 L832.7,463.5 L830.7,459.2 Z" fill="#e5a440" stroke="#9e6c1c" stroke-width="0.9"/><path d="M747.2,465.6 L747.2,428.4" stroke="#9e6c1c" stroke-width="4.1" fill="none" stroke-linecap="butt"/><path d="M747.2,465.6 L747.2,428.4" stroke="#e5a440" stroke-width="2.5" fill="none" stroke-linecap="butt"/><path d="M747.2,465.6 L747.2,428.4" stroke="#f2c27a" stroke-width="0.9" fill="none" stroke-linecap="butt"/><path d="M747.2,423.2 L751.5,430.7 L747.2,428.7 L743.0,430.7 Z" fill="#e5a440" stroke="#9e6c1c" stroke-width="0.9"/><path d="M849.3,358.3 L805.0,358.3" stroke="#9e6c1c" stroke-width="4.1" fill="none" stroke-linecap="butt"/><path d="M849.3,358.3 L805.0,358.3" stroke="#e5a440" stroke-width="2.5" fill="none" stroke-linecap="butt"/><path d="M849.3,358.3 L805.0,358.3" stroke="#f2c27a" stroke-width="0.9" fill="none" stroke-linecap="butt"/><path d="M799.8,358.3 L807.3,354.1 L805.3,358.3 L807.3,362.6 Z" fill="#e5a440" stroke="#9e6c1c" stroke-width="0.9"/><path d="M845.9,479.6 L845.9,423.4 Q845.9,417.4 839.9,417.4 L801.6,417.4" stroke="#9e6c1c" stroke-width="4.1" fill="none" stroke-linecap="butt"/><path d="M845.9,479.6 L845.9,423.4 Q845.9,417.4 839.9,417.4 L801.6,417.4" stroke="#e5a440" stroke-width="2.5" fill="none" stroke-linecap="butt"/><path d="M845.9,479.6 L845.9,423.4 Q845.9,417.4 839.9,417.4 L801.6,417.4" stroke="#f2c27a" stroke-width="0.9" fill="none" stroke-linecap="butt"/><path d="M796.4,417.4 L803.9,413.1 L801.9,417.4 L803.9,421.6 Z" fill="#e5a440" stroke="#9e6c1c" stroke-width="0.9"/><path d="M845.9,440.0 L845.9,510.9 Q845.9,516.9 839.9,516.9 L806.2,516.9" stroke="#9e6c1c" stroke-width="4.1" fill="none" stroke-linecap="butt"/><path d="M845.9,440.0 L845.9,510.9 Q845.9,516.9 839.9,516.9 L806.2,516.9" stroke="#e5a440" stroke-width="2.5" fill="none" stroke-linecap="butt"/><path d="M845.9,440.0 L845.9,510.9 Q845.9,516.9 839.9,516.9 L806.2,516.9" stroke="#f2c27a" stroke-width="0.9" fill="none" stroke-linecap="butt"/><path d="M801.0,516.9 L808.5,512.6 L806.5,516.9 L808.5,521.1 Z" fill="#e5a440" stroke="#9e6c1c" stroke-width="0.9"/><path d="M839.5,486.2 L807.1,486.2" stroke="#9e6c1c" stroke-width="4.1" fill="none" stroke-linecap="butt"/><path d="M839.5,486.2 L807.1,486.2" stroke="#e5a440" stroke-width="2.5" fill="none" stroke-linecap="butt"/><path d="M839.5,486.2 L807.1,486.2" stroke="#f2c27a" stroke-width="0.9" fill="none" stroke-linecap="butt"/><path d="M801.9,486.2 L809.4,481.9 L807.4,486.2 L809.4,490.4 Z" fill="#e5a440" stroke="#9e6c1c" stroke-width="0.9"/><line x1="931.1" y1="9.5" x2="1366.4" y2="9.5" stroke="#2a2a2a" stroke-width="1.2" /><line x1="931.1" y1="9.5" x2="931.1" y2="752.0" stroke="#2a2a2a" stroke-width="1.6" /><line x1="1366.4" y1="9.5" x2="1366.4" y2="758.7" stroke="#777" stroke-width="1.0" /><line x1="949.2" y1="16.2" x2="1361.4" y2="16.2" stroke="#2a2a2a" stroke-width="1.6" /><line x1="1361.4" y1="16.2" x2="1361.4" y2="752.0" stroke="#2a2a2a" stroke-width="1.6" /><line x1="931.1" y1="752.0" x2="1361.4" y2="752.0" stroke="#2a2a2a" stroke-width="1.8" /><line x1="931.1" y1="758.5" x2="1366.4" y2="758.5" stroke="#888" stroke-width="0.9" /><rect x="1351.8" y="16.5" width="9.6" height="31.0" fill="none" stroke="#555" stroke-width="0.8" /><text transform="translate(1356.4,47) rotate(-90)" font-size="4" font-weight="bold" fill="#555" textLength="29" lengthAdjust="spacingAndGlyphs">REV NO DATE DESCRIPTION</text><text transform="translate(1359.6,47) rotate(-90)" font-size="3.2" fill="#777" textLength="29" lengthAdjust="spacingAndGlyphs">01 A 2024 ISSUED FOR INFO</text><line x1="1002.3" y1="9.5" x2="1002.3" y2="14.0" stroke="#2a2a2a" stroke-width="0.8" /><line x1="1070.6" y1="9.5" x2="1070.6" y2="14.0" stroke="#2a2a2a" stroke-width="0.8" /><line x1="1151.2" y1="9.5" x2="1151.2" y2="14.0" stroke="#2a2a2a" stroke-width="0.8" /><line x1="1188.4" y1="9.5" x2="1188.4" y2="14.0" stroke="#2a2a2a" stroke-width="0.8" /><line x1="1304.6" y1="9.5" x2="1304.6" y2="14.0" stroke="#2a2a2a" stroke-width="0.8" /><line x1="1351.6" y1="16.5" x2="1351.6" y2="660.0" stroke="#2a2a2a" stroke-width="1.3" /><path d="M949.5,16.2 L949.5,673.6 C949.5,691.2736 963.8264,705.6 981.5,705.6 L991,705.6" stroke="#8c8c8c" stroke-width="0.9" fill="none" /><line x1="991.0" y1="700.3" x2="991.0" y2="705.6" stroke="#8c8c8c" stroke-width="0.9" /><path d="M954.9,20 L954.9,674.3 C954.9,688.6597999999999 966.5402,700.3 980.9,700.3 L991,700.3" stroke="#8c8c8c" stroke-width="0.9" fill="none" /><text transform="translate(925.3,751.7) rotate(-90)" font-size="3.9" fill="#444" textLength="52.3" lengthAdjust="spacingAndGlyphs">DRAWING TITLE PHASE 3 REV A</text><text transform="translate(929.3,751.7) rotate(-90)" font-size="3.9" fill="#444" textLength="92.4" lengthAdjust="spacingAndGlyphs">PROJECT NUMBER WAREHOUSE EXPANSION STAGE 3</text><text x="935.1" y="757.5" font-size="4.2" font-weight="bold" fill="#444" textLength="26" lengthAdjust="spacingAndGlyphs">T.AN NOLS N NH</text><line x1="931.1" y1="754.0" x2="931.1" y2="758.5" stroke="#777" stroke-width="0.8" /><line x1="1002.1" y1="753.0" x2="1002.1" y2="758.5" stroke="#999" stroke-width="0.8" /><line x1="1070.1" y1="753.0" x2="1070.1" y2="758.5" stroke="#999" stroke-width="0.8" /><line x1="1203.1" y1="753.0" x2="1203.1" y2="758.5" stroke="#999" stroke-width="0.8" /><line x1="1286.1" y1="753.0" x2="1286.1" y2="758.5" stroke="#999" stroke-width="0.8" /><rect x="1008.1" y="44.8" width="265.6" height="527.0" fill="#7bbf87" stroke="none" stroke-width="1" /><path d="M1008.1,575.5 L1273.7,575.5 L1273.7,627.9 L1255.2,627.9 L1255.2,671.2 L1008.1,671.2 Z" stroke="none" stroke-width="1" fill="#f89c99" /><line x1="1032.5" y1="44.8" x2="1032.5" y2="571.0" stroke="#2b4a2f" stroke-width="0.75" stroke-dasharray="4,1.5,1.2,1.5" opacity="0.47"/><line x1="1070.6" y1="44.8" x2="1070.6" y2="571.0" stroke="#2b4a2f" stroke-width="0.75" stroke-dasharray="4,1.5,1.2,1.5" opacity="0.47"/><line x1="1140.7" y1="44.8" x2="1140.7" y2="571.0" stroke="#2b4a2f" stroke-width="0.75" stroke-dasharray="4,1.5,1.2,1.5" opacity="0.47"/><line x1="1246.7" y1="44.8" x2="1246.7" y2="571.0" stroke="#2b4a2f" stroke-width="0.75" stroke-dasharray="4,1.5,1.2,1.5" opacity="0.47"/><line x1="1008.1" y1="143.2" x2="1273.7" y2="143.2" stroke="#2b4a2f" stroke-width="0.75" stroke-dasharray="4,1.5,1.2,1.5" opacity="0.47"/><line x1="1008.1" y1="200.4" x2="1273.7" y2="200.4" stroke="#2b4a2f" stroke-width="0.75" stroke-dasharray="4,1.5,1.2,1.5" opacity="0.47"/><line x1="1008.1" y1="293.8" x2="1273.7" y2="293.8" stroke="#2b4a2f" stroke-width="0.75" stroke-dasharray="4,1.5,1.2,1.5" opacity="0.47"/><line x1="1008.1" y1="347.0" x2="1273.7" y2="347.0" stroke="#2b4a2f" stroke-width="0.75" stroke-dasharray="4,1.5,1.2,1.5" opacity="0.47"/><line x1="1008.1" y1="400.0" x2="1273.7" y2="400.0" stroke="#2b4a2f" stroke-width="0.75" stroke-dasharray="4,1.5,1.2,1.5" opacity="0.47"/><line x1="1008.1" y1="491.0" x2="1273.7" y2="491.0" stroke="#2b4a2f" stroke-width="0.75" stroke-dasharray="4,1.5,1.2,1.5" opacity="0.47"/><line x1="1008.1" y1="544.0" x2="1273.7" y2="544.0" stroke="#2b4a2f" stroke-width="0.75" stroke-dasharray="4,1.5,1.2,1.5" opacity="0.47"/><line x1="1008.1" y1="233.6" x2="1273.7" y2="233.6" stroke="#1e3a22" stroke-width="0.9" stroke-dasharray="4,1.5" opacity="0.7"/><line x1="1008.1" y1="242.0" x2="1273.7" y2="242.0" stroke="#1e3a22" stroke-width="0.9" stroke-dasharray="4,1.5" opacity="0.7"/><line x1="1008.1" y1="439.4" x2="1273.7" y2="439.4" stroke="#1e3a22" stroke-width="0.9" stroke-dasharray="4,1.5" opacity="0.7"/><line x1="1008.1" y1="446.1" x2="1273.7" y2="446.1" stroke="#1e3a22" stroke-width="0.9" stroke-dasharray="4,1.5" opacity="0.7"/><line x1="1184.0" y1="44.8" x2="1184.0" y2="571.0" stroke="#1e3a22" stroke-width="0.7" stroke-dasharray="4,1.5" opacity="0.5"/><line x1="1180.7" y1="44.8" x2="1180.7" y2="571.0" stroke="#1e3a22" stroke-width="1.0" stroke-dasharray="4,1.5" opacity="0.8"/><line x1="1255.0" y1="44.8" x2="1255.0" y2="571.0" stroke="#1e3a22" stroke-width="1.0" stroke-dasharray="4,1.5" opacity="0.8"/><line x1="1032.5" y1="575.5" x2="1032.5" y2="671.0" stroke="#6a3a3a" stroke-width="0.75" stroke-dasharray="4,1.5,1.2,1.5" opacity="0.38"/><line x1="1070.1" y1="575.5" x2="1070.1" y2="671.0" stroke="#6a3a3a" stroke-width="0.75" stroke-dasharray="4,1.5,1.2,1.5" opacity="0.38"/><line x1="1140.8" y1="575.5" x2="1140.8" y2="671.0" stroke="#6a3a3a" stroke-width="0.75" stroke-dasharray="4,1.5,1.2,1.5" opacity="0.38"/><line x1="1185.0" y1="575.5" x2="1185.0" y2="671.0" stroke="#6a3a3a" stroke-width="0.75" stroke-dasharray="4,1.5,1.2,1.5" opacity="0.38"/><line x1="1008.1" y1="587.0" x2="1273.7" y2="587.0" stroke="#6a3a3a" stroke-width="0.75" stroke-dasharray="4,1.5,1.2,1.5" opacity="0.38"/><line x1="1008.1" y1="628.9" x2="1273.7" y2="628.9" stroke="#6a3a3a" stroke-width="0.75" stroke-dasharray="4,1.5,1.2,1.5" opacity="0.38"/><rect x="1008.5" y="44.8" width="264.8" height="527.0" fill="none" stroke="#1a261a" stroke-width="1.7" /><path d="M1008.1,575.5 L1273.7,575.5 L1273.7,627.9 L1255.2,627.9 L1255.2,671.2 L1008.1,671.2 Z" stroke="#cf1f1c" stroke-width="2.8" fill="none" /><rect x="1008.1" y="571.2" width="265.6" height="3.2" fill="#7a5a2a" stroke="none" stroke-width="1" opacity="0.6"/><rect x="1009.1" y="571.3" width="10.5" height="3.0" fill="#f4e23c" stroke="none" stroke-width="1" rx="1.6"/><rect x="1025.3" y="571.3" width="10.5" height="3.0" fill="#f4e23c" stroke="none" stroke-width="1" rx="1.6"/><rect x="1041.5" y="571.3" width="10.5" height="3.0" fill="#f4e23c" stroke="none" stroke-width="1" rx="1.6"/><rect x="1057.7" y="571.3" width="10.5" height="3.0" fill="#f4e23c" stroke="none" stroke-width="1" rx="1.6"/><rect x="1073.9" y="571.3" width="10.5" height="3.0" fill="#f4e23c" stroke="none" stroke-width="1" rx="1.6"/><rect x="1090.1" y="571.3" width="10.5" height="3.0" fill="#f4e23c" stroke="none" stroke-width="1" rx="1.6"/><rect x="1106.3" y="571.3" width="10.5" height="3.0" fill="#f4e23c" stroke="none" stroke-width="1" rx="1.6"/><rect x="1122.5" y="571.3" width="10.5" height="3.0" fill="#f4e23c" stroke="none" stroke-width="1" rx="1.6"/><rect x="1138.7" y="571.3" width="10.5" height="3.0" fill="#f4e23c" stroke="none" stroke-width="1" rx="1.6"/><rect x="1154.9" y="571.3" width="10.5" height="3.0" fill="#f4e23c" stroke="none" stroke-width="1" rx="1.6"/><rect x="1171.1" y="571.3" width="10.5" height="3.0" fill="#f4e23c" stroke="none" stroke-width="1" rx="1.6"/><rect x="1187.3" y="571.3" width="10.5" height="3.0" fill="#f4e23c" stroke="none" stroke-width="1" rx="1.6"/><rect x="1203.5" y="571.3" width="10.5" height="3.0" fill="#f4e23c" stroke="none" stroke-width="1" rx="1.6"/><rect x="1219.7" y="571.3" width="10.5" height="3.0" fill="#f4e23c" stroke="none" stroke-width="1" rx="1.6"/><rect x="1235.9" y="571.3" width="10.5" height="3.0" fill="#f4e23c" stroke="none" stroke-width="1" rx="1.6"/><rect x="1252.1" y="571.3" width="10.5" height="3.0" fill="#f4e23c" stroke="none" stroke-width="1" rx="1.6"/><line x1="1008.1" y1="27.8" x2="1273.7" y2="27.8" stroke="#555" stroke-width="0.8" /><line x1="1008.1" y1="35.9" x2="1273.7" y2="35.9" stroke="#555" stroke-width="0.8" /><line x1="1008.1" y1="25.8" x2="1008.1" y2="39.9" stroke="#555" stroke-width="0.7" /><line x1="1273.7" y1="25.8" x2="1273.7" y2="39.9" stroke="#555" stroke-width="0.7" /><line x1="1032.5" y1="32.9" x2="1032.5" y2="38.9" stroke="#555" stroke-width="0.8" /><line x1="1070.6" y1="32.9" x2="1070.6" y2="38.9" stroke="#555" stroke-width="0.8" /><line x1="1140.7" y1="32.9" x2="1140.7" y2="38.9" stroke="#555" stroke-width="0.8" /><line x1="1184.0" y1="32.9" x2="1184.0" y2="38.9" stroke="#555" stroke-width="0.8" /><line x1="1246.7" y1="32.9" x2="1246.7" y2="38.9" stroke="#555" stroke-width="0.8" /><text x="1140.9" y="26.3" font-size="4.5" fill="#555" text-anchor="middle">5162</text><text x="1020.0" y="33.9" font-size="4.5" fill="#555" text-anchor="middle">6/40</text><text x="1105.0" y="33.9" font-size="4.5" fill="#555" text-anchor="middle">6163</text><text x="1215.0" y="33.9" font-size="4.5" fill="#555" text-anchor="middle">6/40</text><text x="1260.0" y="33.9" font-size="4.5" fill="#555" text-anchor="middle">6/0</text><line x1="1008.1" y1="680.6" x2="1255.2" y2="680.6" stroke="#666" stroke-width="0.8" /><line x1="1008.1" y1="678.6" x2="1008.1" y2="682.6" stroke="#555" stroke-width="0.8" /><line x1="1255.2" y1="678.6" x2="1255.2" y2="682.6" stroke="#555" stroke-width="0.8" /><line x1="1008.1" y1="688.3" x2="1255.2" y2="688.3" stroke="#666" stroke-width="0.8" /><line x1="1008.1" y1="686.3" x2="1008.1" y2="690.3" stroke="#555" stroke-width="0.8" /><line x1="1255.2" y1="686.3" x2="1255.2" y2="690.3" stroke="#555" stroke-width="0.8" /><line x1="1008.1" y1="695.2" x2="1255.2" y2="695.2" stroke="#666" stroke-width="0.8" /><line x1="1008.1" y1="693.2" x2="1008.1" y2="697.2" stroke="#555" stroke-width="0.8" /><line x1="1255.2" y1="693.2" x2="1255.2" y2="697.2" stroke="#555" stroke-width="0.8" /><line x1="1032.5" y1="677.6" x2="1032.5" y2="682.6" stroke="#555" stroke-width="0.8" /><line x1="1140.7" y1="677.6" x2="1140.7" y2="682.6" stroke="#555" stroke-width="0.8" /><line x1="1246.0" y1="677.6" x2="1246.0" y2="682.6" stroke="#555" stroke-width="0.8" /><text x="1020.0" y="678.6" font-size="4.5" fill="#555" text-anchor="middle">5/0</text><text x="1086.0" y="678.6" font-size="4.5" fill="#555" text-anchor="middle">5/40</text><text x="1195.0" y="678.6" font-size="4.5" fill="#555" text-anchor="middle">5/30</text><text x="1250.0" y="678.6" font-size="4.5" fill="#555" text-anchor="middle">5/0</text><line x1="961.2" y1="44.8" x2="961.2" y2="671.7" stroke="#8a8a8a" stroke-width="0.9" /><line x1="959.2" y1="44.8" x2="964.2" y2="44.8" stroke="#555" stroke-width="0.8" /><line x1="968.0" y1="44.8" x2="968.0" y2="671.7" stroke="#8a8a8a" stroke-width="0.9" /><line x1="966.0" y1="44.8" x2="971.0" y2="44.8" stroke="#555" stroke-width="0.8" /><line x1="975.8" y1="44.8" x2="975.8" y2="671.7" stroke="#8a8a8a" stroke-width="0.9" /><line x1="973.8" y1="44.8" x2="978.8" y2="44.8" stroke="#555" stroke-width="0.8" /><line x1="987.5" y1="44.8" x2="987.5" y2="671.7" stroke="#777" stroke-width="0.9" /><line x1="984.5" y1="44.8" x2="990.5" y2="44.8" stroke="#444" stroke-width="1.0" /><line x1="984.5" y1="66.0" x2="990.5" y2="66.0" stroke="#444" stroke-width="1.0" /><line x1="984.5" y1="143.2" x2="990.5" y2="143.2" stroke="#444" stroke-width="1.0" /><line x1="984.5" y1="200.4" x2="990.5" y2="200.4" stroke="#444" stroke-width="1.0" /><line x1="984.5" y1="242.0" x2="990.5" y2="242.0" stroke="#444" stroke-width="1.0" /><line x1="984.5" y1="294.0" x2="990.5" y2="294.0" stroke="#444" stroke-width="1.0" /><line x1="984.5" y1="400.0" x2="990.5" y2="400.0" stroke="#444" stroke-width="1.0" /><line x1="984.5" y1="436.0" x2="990.5" y2="436.0" stroke="#444" stroke-width="1.0" /><line x1="984.5" y1="440.0" x2="990.5" y2="440.0" stroke="#444" stroke-width="1.0" /><line x1="984.5" y1="491.0" x2="990.5" y2="491.0" stroke="#444" stroke-width="1.0" /><line x1="984.5" y1="544.0" x2="990.5" y2="544.0" stroke="#444" stroke-width="1.0" /><line x1="984.5" y1="580.0" x2="990.5" y2="580.0" stroke="#444" stroke-width="1.0" /><line x1="984.5" y1="583.0" x2="990.5" y2="583.0" stroke="#444" stroke-width="1.0" /><line x1="984.5" y1="620.0" x2="990.5" y2="620.0" stroke="#444" stroke-width="1.0" /><line x1="984.5" y1="671.7" x2="990.5" y2="671.7" stroke="#444" stroke-width="1.0" /><text transform="translate(985.0,54.0) rotate(-90)" font-size="4.5" fill="#555" text-anchor="middle">1/20</text><text transform="translate(985.0,104.0) rotate(-90)" font-size="4.5" fill="#555" text-anchor="middle">6/40</text><text transform="translate(985.0,170.0) rotate(-90)" font-size="4.5" fill="#555" text-anchor="middle">5/20</text><text transform="translate(985.0,266.0) rotate(-90)" font-size="4.5" fill="#555" text-anchor="middle">5/40</text><text transform="translate(985.0,346.0) rotate(-90)" font-size="4.5" fill="#555" text-anchor="middle">6/60</text><text transform="translate(965.0,353.0) rotate(-90)" font-size="4.5" fill="#555" text-anchor="middle">1240</text><text transform="translate(972.0,346.0) rotate(-90)" font-size="4.5" fill="#555" text-anchor="middle">6/80</text><text transform="translate(979.0,346.0) rotate(-90)" font-size="4.5" fill="#555" text-anchor="middle">6/0</text><text transform="translate(985.0,420.0) rotate(-90)" font-size="4.5" fill="#555" text-anchor="middle">1/70</text><text transform="translate(985.0,470.0) rotate(-90)" font-size="4.5" fill="#555" text-anchor="middle">5/40</text><text transform="translate(985.0,520.0) rotate(-90)" font-size="4.5" fill="#555" text-anchor="middle">5/40</text><text transform="translate(985.0,560.0) rotate(-90)" font-size="4.5" fill="#555" text-anchor="middle">5/10</text><text transform="translate(985.0,640.0) rotate(-90)" font-size="4.5" fill="#555" text-anchor="middle">1/60</text><text transform="translate(970.0,640.0) rotate(-90)" font-size="4.5" fill="#555" text-anchor="middle">1/60</text><rect x="1000.0" y="212.0" width="8.0" height="19.5" fill="#ffffff" stroke="none" stroke-width="1" /><line x1="1001.0" y1="212.0" x2="1008.0" y2="212.0" stroke="#222" stroke-width="1.1" /><line x1="1000.0" y1="231.5" x2="1008.0" y2="231.5" stroke="#222" stroke-width="1.1" /><path d="M1002,212 Q1003.2,220.775 1008,222.725" stroke="#333" stroke-width="0.8" fill="none" /><line x1="1002.5" y1="220.8" x2="1002.5" y2="231.5" stroke="#555" stroke-width="0.7" stroke-dasharray="1.2,0.8"/><rect x="1006.2" y="312.0" width="10.0" height="17.5" fill="#ffffff" stroke="none" stroke-width="1" opacity="0.35"/><rect x="996.2" y="312.0" width="10.0" height="17.5" fill="#ffffff" stroke="none" stroke-width="1" /><line x1="996.2" y1="312.0" x2="1016.2" y2="312.0" stroke="#222" stroke-width="1.3" /><line x1="996.2" y1="329.5" x2="1016.2" y2="329.5" stroke="#222" stroke-width="1.3" /><line x1="996.8" y1="312.0" x2="996.8" y2="329.5" stroke="#444" stroke-width="0.8" /><line x1="1015.8" y1="312.0" x2="1015.8" y2="329.5" stroke="#333" stroke-width="0.7" stroke-dasharray="1.5,1"/><path d="M997.75,314 L1004.65,320.75 L997.75,327.5" stroke="#444" stroke-width="0.8" fill="none" /><rect x="1275.7" y="311.7" width="9.8" height="17.6" fill="#ffffff" stroke="none" stroke-width="1" opacity="0.35"/><rect x="1265.9" y="311.7" width="9.8" height="17.6" fill="#ffffff" stroke="none" stroke-width="1" /><line x1="1265.9" y1="311.7" x2="1285.4" y2="311.7" stroke="#222" stroke-width="1.3" /><line x1="1265.9" y1="329.3" x2="1285.4" y2="329.3" stroke="#222" stroke-width="1.3" /><line x1="1266.4" y1="311.7" x2="1266.4" y2="329.3" stroke="#444" stroke-width="0.8" /><line x1="1284.9" y1="311.7" x2="1284.9" y2="329.3" stroke="#333" stroke-width="0.7" stroke-dasharray="1.5,1"/><path d="M1267.4,313.7 L1274.0900000000001,320.5 L1267.4,327.3" stroke="#444" stroke-width="0.8" fill="none" /><rect x="997.0" y="409.0" width="10.0" height="18.0" fill="#ffffff" stroke="none" stroke-width="1" /><line x1="998.0" y1="409.0" x2="1007.0" y2="409.0" stroke="#222" stroke-width="1.1" /><line x1="997.0" y1="427.0" x2="1007.0" y2="427.0" stroke="#222" stroke-width="1.1" /><path d="M999,409 Q1001.0,417.1 1007,418.9" stroke="#333" stroke-width="0.8" fill="none" /><line x1="999.5" y1="417.1" x2="999.5" y2="427.0" stroke="#555" stroke-width="0.7" stroke-dasharray="1.2,0.8"/><line x1="1273.7" y1="66.0" x2="1296.7" y2="66.0" stroke="#777" stroke-width="0.9" /><line x1="1273.7" y1="76.2" x2="1296.7" y2="76.2" stroke="#777" stroke-width="0.9" /><line x1="1273.7" y1="86.4" x2="1296.7" y2="86.4" stroke="#777" stroke-width="0.9" /><line x1="1273.7" y1="96.6" x2="1296.7" y2="96.6" stroke="#777" stroke-width="0.9" /><line x1="1273.7" y1="106.8" x2="1296.7" y2="106.8" stroke="#777" stroke-width="0.9" /><line x1="1273.7" y1="117.0" x2="1296.7" y2="117.0" stroke="#777" stroke-width="0.9" /><line x1="1273.7" y1="127.2" x2="1296.7" y2="127.2" stroke="#777" stroke-width="0.9" /><line x1="1273.7" y1="137.4" x2="1296.7" y2="137.4" stroke="#777" stroke-width="0.9" /><line x1="1273.7" y1="150.0" x2="1296.7" y2="150.0" stroke="#777" stroke-width="0.9" /><line x1="1273.7" y1="160.2" x2="1296.7" y2="160.2" stroke="#777" stroke-width="0.9" /><line x1="1273.7" y1="170.4" x2="1296.7" y2="170.4" stroke="#777" stroke-width="0.9" /><line x1="1273.7" y1="180.6" x2="1296.7" y2="180.6" stroke="#777" stroke-width="0.9" /><line x1="1273.7" y1="190.8" x2="1296.7" y2="190.8" stroke="#777" stroke-width="0.9" /><line x1="1273.7" y1="202.4" x2="1296.7" y2="202.4" stroke="#777" stroke-width="0.9" /><line x1="1273.7" y1="212.6" x2="1296.7" y2="212.6" stroke="#777" stroke-width="0.9" /><line x1="1273.7" y1="222.8" x2="1296.7" y2="222.8" stroke="#777" stroke-width="0.9" /><line x1="1273.7" y1="233.0" x2="1296.7" y2="233.0" stroke="#777" stroke-width="0.9" /><line x1="1273.7" y1="243.7" x2="1296.7" y2="243.7" stroke="#777" stroke-width="0.9" /><line x1="1273.7" y1="253.9" x2="1296.7" y2="253.9" stroke="#777" stroke-width="0.9" /><line x1="1273.7" y1="264.1" x2="1296.7" y2="264.1" stroke="#777" stroke-width="0.9" /><line x1="1273.7" y1="274.3" x2="1296.7" y2="274.3" stroke="#777" stroke-width="0.9" /><line x1="1273.7" y1="354.0" x2="1296.7" y2="354.0" stroke="#777" stroke-width="0.9" /><line x1="1273.7" y1="364.5" x2="1296.7" y2="364.5" stroke="#777" stroke-width="0.9" /><line x1="1273.7" y1="375.0" x2="1296.7" y2="375.0" stroke="#777" stroke-width="0.9" /><line x1="1273.7" y1="385.4" x2="1296.7" y2="385.4" stroke="#777" stroke-width="0.9" /><line x1="1273.7" y1="395.9" x2="1296.7" y2="395.9" stroke="#777" stroke-width="0.9" /><line x1="1273.7" y1="406.4" x2="1296.7" y2="406.4" stroke="#777" stroke-width="0.9" /><line x1="1273.7" y1="416.9" x2="1296.7" y2="416.9" stroke="#777" stroke-width="0.9" /><line x1="1273.7" y1="427.4" x2="1296.7" y2="427.4" stroke="#777" stroke-width="0.9" /><line x1="1273.7" y1="437.8" x2="1296.7" y2="437.8" stroke="#777" stroke-width="0.9" /><line x1="1273.7" y1="448.3" x2="1296.7" y2="448.3" stroke="#777" stroke-width="0.9" /><line x1="1273.7" y1="458.8" x2="1296.7" y2="458.8" stroke="#777" stroke-width="0.9" /><line x1="1273.7" y1="469.3" x2="1296.7" y2="469.3" stroke="#777" stroke-width="0.9" /><line x1="1273.7" y1="479.8" x2="1296.7" y2="479.8" stroke="#777" stroke-width="0.9" /><line x1="1273.7" y1="496.0" x2="1296.7" y2="496.0" stroke="#777" stroke-width="0.9" /><line x1="1273.7" y1="506.4" x2="1296.7" y2="506.4" stroke="#777" stroke-width="0.9" /><line x1="1273.7" y1="516.9" x2="1296.7" y2="516.9" stroke="#777" stroke-width="0.9" /><line x1="1273.7" y1="527.3" x2="1296.7" y2="527.3" stroke="#777" stroke-width="0.9" /><line x1="1273.7" y1="537.7" x2="1296.7" y2="537.7" stroke="#777" stroke-width="0.9" /><line x1="1273.7" y1="548.1" x2="1296.7" y2="548.1" stroke="#777" stroke-width="0.9" /><line x1="1273.7" y1="558.6" x2="1296.7" y2="558.6" stroke="#777" stroke-width="0.9" /><line x1="1273.7" y1="569.0" x2="1296.7" y2="569.0" stroke="#777" stroke-width="0.9" /><text transform="translate(1278.2,74.5) rotate(-90)" font-size="3.6" fill="#999" textLength="7" lengthAdjust="spacingAndGlyphs">1/40</text><text transform="translate(1278.2,84.7) rotate(-90)" font-size="3.6" fill="#999" textLength="7" lengthAdjust="spacingAndGlyphs">1/40</text><text transform="translate(1278.2,94.9) rotate(-90)" font-size="3.6" fill="#999" textLength="7" lengthAdjust="spacingAndGlyphs">1/40</text><text transform="translate(1278.2,105.1) rotate(-90)" font-size="3.6" fill="#999" textLength="7" lengthAdjust="spacingAndGlyphs">1/40</text><text transform="translate(1278.2,115.3) rotate(-90)" font-size="3.6" fill="#999" textLength="7" lengthAdjust="spacingAndGlyphs">1/40</text><text transform="translate(1278.2,125.5) rotate(-90)" font-size="3.6" fill="#999" textLength="7" lengthAdjust="spacingAndGlyphs">1/40</text><text transform="translate(1278.2,135.7) rotate(-90)" font-size="3.6" fill="#999" textLength="7" lengthAdjust="spacingAndGlyphs">1/40</text><text transform="translate(1278.2,158.5) rotate(-90)" font-size="3.6" fill="#999" textLength="7" lengthAdjust="spacingAndGlyphs">1/40</text><text transform="translate(1278.2,168.7) rotate(-90)" font-size="3.6" fill="#999" textLength="7" lengthAdjust="spacingAndGlyphs">1/40</text><text transform="translate(1278.2,178.9) rotate(-90)" font-size="3.6" fill="#999" textLength="7" lengthAdjust="spacingAndGlyphs">1/40</text><text transform="translate(1278.2,189.1) rotate(-90)" font-size="3.6" fill="#999" textLength="7" lengthAdjust="spacingAndGlyphs">1/40</text><text transform="translate(1278.2,199.3) rotate(-90)" font-size="3.6" fill="#999" textLength="7" lengthAdjust="spacingAndGlyphs">1/40</text><text transform="translate(1278.2,210.9) rotate(-90)" font-size="3.6" fill="#999" textLength="7" lengthAdjust="spacingAndGlyphs">1/40</text><text transform="translate(1278.2,221.1) rotate(-90)" font-size="3.6" fill="#999" textLength="7" lengthAdjust="spacingAndGlyphs">1/40</text><text transform="translate(1278.2,231.3) rotate(-90)" font-size="3.6" fill="#999" textLength="7" lengthAdjust="spacingAndGlyphs">1/40</text><text transform="translate(1278.2,241.5) rotate(-90)" font-size="3.6" fill="#999" textLength="7" lengthAdjust="spacingAndGlyphs">1/40</text><text transform="translate(1278.2,252.2) rotate(-90)" font-size="3.6" fill="#999" textLength="7" lengthAdjust="spacingAndGlyphs">1/40</text><text transform="translate(1278.2,262.4) rotate(-90)" font-size="3.6" fill="#999" textLength="7" lengthAdjust="spacingAndGlyphs">1/40</text><text transform="translate(1278.2,272.6) rotate(-90)" font-size="3.6" fill="#999" textLength="7" lengthAdjust="spacingAndGlyphs">1/40</text><text transform="translate(1278.2,362.5) rotate(-90)" font-size="3.6" fill="#999" textLength="7" lengthAdjust="spacingAndGlyphs">1/40</text><text transform="translate(1278.2,373.0) rotate(-90)" font-size="3.6" fill="#999" textLength="7" lengthAdjust="spacingAndGlyphs">1/40</text><text transform="translate(1278.2,383.5) rotate(-90)" font-size="3.6" fill="#999" textLength="7" lengthAdjust="spacingAndGlyphs">1/40</text><text transform="translate(1278.2,393.9) rotate(-90)" font-size="3.6" fill="#999" textLength="7" lengthAdjust="spacingAndGlyphs">1/40</text><text transform="translate(1278.2,404.4) rotate(-90)" font-size="3.6" fill="#999" textLength="7" lengthAdjust="spacingAndGlyphs">1/40</text><text transform="translate(1278.2,414.9) rotate(-90)" font-size="3.6" fill="#999" textLength="7" lengthAdjust="spacingAndGlyphs">1/40</text><text transform="translate(1278.2,425.4) rotate(-90)" font-size="3.6" fill="#999" textLength="7" lengthAdjust="spacingAndGlyphs">1/40</text><text transform="translate(1278.2,435.9) rotate(-90)" font-size="3.6" fill="#999" textLength="7" lengthAdjust="spacingAndGlyphs">1/40</text><text transform="translate(1278.2,446.3) rotate(-90)" font-size="3.6" fill="#999" textLength="7" lengthAdjust="spacingAndGlyphs">1/40</text><text transform="translate(1278.2,456.8) rotate(-90)" font-size="3.6" fill="#999" textLength="7" lengthAdjust="spacingAndGlyphs">1/40</text><text transform="translate(1278.2,467.3) rotate(-90)" font-size="3.6" fill="#999" textLength="7" lengthAdjust="spacingAndGlyphs">1/40</text><text transform="translate(1278.2,477.8) rotate(-90)" font-size="3.6" fill="#999" textLength="7" lengthAdjust="spacingAndGlyphs">1/40</text><text transform="translate(1278.2,504.5) rotate(-90)" font-size="3.6" fill="#999" textLength="7" lengthAdjust="spacingAndGlyphs">1/40</text><text transform="translate(1278.2,514.9) rotate(-90)" font-size="3.6" fill="#999" textLength="7" lengthAdjust="spacingAndGlyphs">1/40</text><text transform="translate(1278.2,525.4) rotate(-90)" font-size="3.6" fill="#999" textLength="7" lengthAdjust="spacingAndGlyphs">1/40</text><text transform="translate(1278.2,535.8) rotate(-90)" font-size="3.6" fill="#999" textLength="7" lengthAdjust="spacingAndGlyphs">1/40</text><text transform="translate(1278.2,546.2) rotate(-90)" font-size="3.6" fill="#999" textLength="7" lengthAdjust="spacingAndGlyphs">1/40</text><text transform="translate(1278.2,556.6) rotate(-90)" font-size="3.6" fill="#999" textLength="7" lengthAdjust="spacingAndGlyphs">1/40</text><text transform="translate(1278.2,567.1) rotate(-90)" font-size="3.6" fill="#999" textLength="7" lengthAdjust="spacingAndGlyphs">1/40</text><g transform="translate(1086.5,600.1) scale(-1,1)"><rect x="0.6" y="20.5" width="16.6" height="4.4" rx="2.0" fill="none" stroke="#1e1e1e" stroke-width="1.3499999999999999"/><line x1="1.9" y1="22.7" x2="15.8" y2="22.7" stroke="#1e1e1e" stroke-width="0.9" stroke-dasharray="1.2,0.6"/><path d="M1.1,20.5 L1.1,16.4 Q1.1,15.4 2.8,15.4 L12.2,15.4 L13.9,20.5" fill="none" stroke="#1e1e1e" stroke-width="1.15"/><path d="M6.1,16.9 L24.9,0.5 L26.3,1.8 L9.4,17.9" fill="none" stroke="#1e1e1e" stroke-width="1.15"/><path d="M6.1,16.9 L9.4,17.9 L8.8,14.6 M11.5,12.2 L14.2,13.3 L14.2,9.9 M16.9,7.5 L19.1,8.7 L19.5,5.2 M22.2,2.9 L23.9,4.1 L24.9,0.5 " fill="none" stroke="#1e1e1e" stroke-width="0.6"/><path d="M25.8,1.3 L25.8,10.8" stroke="#1e1e1e" stroke-width="0.9"/><ellipse cx="25.8" cy="11.8" rx="1.2" ry="1.3" fill="none" stroke="#1e1e1e" stroke-width="0.9"/></g><g transform="translate(1211.2,599.3) scale(-1,1)"><rect x="0.7" y="29.0" width="21.5" height="6.2" rx="2.9" fill="none" stroke="#1e1e1e" stroke-width="1.3499999999999999"/><line x1="2.5" y1="32.1" x2="20.5" y2="32.1" stroke="#1e1e1e" stroke-width="0.9" stroke-dasharray="1.2,0.6"/><path d="M1.4,29.0 L1.4,23.2 Q1.4,21.8 3.6,21.8 L15.8,21.8 L18.0,29.0" fill="none" stroke="#1e1e1e" stroke-width="1.15"/><path d="M7.9,24.0 L32.3,0.7 L34.1,2.5 L12.2,25.4" fill="none" stroke="#1e1e1e" stroke-width="1.15"/><path d="M7.9,24.0 L12.2,25.4 L11.4,20.6 M14.9,17.3 L18.5,18.9 L18.4,14.0 M21.8,10.7 L24.7,12.3 L25.3,7.4 M28.8,4.0 L31.0,5.8 L32.3,0.7 " fill="none" stroke="#1e1e1e" stroke-width="0.6"/><path d="M33.4,1.8 L33.4,15.2" stroke="#1e1e1e" stroke-width="0.9"/><ellipse cx="33.4" cy="16.7" rx="1.5" ry="1.8" fill="none" stroke="#1e1e1e" stroke-width="0.9"/></g><g transform="translate(1039.6,585.2)"><rect x="0" y="0" width="15.3" height="8.6" fill="none" stroke="#222" stroke-width="1.1"/><path d="M15.8,2.4 L21.0,2.4 L24.2,5.9 L24.2,9.3 L15.8,9.3 Z" fill="none" stroke="#222" stroke-width="1.1"/><circle cx="4.4" cy="9.8" r="1.8" fill="#f89c99" stroke="#222" stroke-width="1"/><circle cx="11.1" cy="9.8" r="1.8" fill="#f89c99" stroke="#222" stroke-width="1"/><circle cx="20.3" cy="9.8" r="1.8" fill="#f89c99" stroke="#222" stroke-width="1"/></g><g transform="translate(1098.5,592.4)"><rect x="0" y="0" width="17.2" height="8.6" fill="none" stroke="#222" stroke-width="1.1"/><path d="M17.7,2.4 L23.5,2.4 L27.1,6.0 L27.1,9.4 L17.7,9.4 Z" fill="none" stroke="#222" stroke-width="1.1"/><circle cx="5.0" cy="9.8" r="1.8" fill="#f89c99" stroke="#222" stroke-width="1"/><circle cx="12.5" cy="9.8" r="1.8" fill="#f89c99" stroke="#222" stroke-width="1"/><circle cx="22.7" cy="9.8" r="1.8" fill="#f89c99" stroke="#222" stroke-width="1"/></g><g transform="translate(1110.9,619.3)"><path d="M1.0,10.8 L2.1,7.2 L13.0,6.3 L14.6,0.8 L22.9,0.8 L24.7,7.5 L24.7,10.8" fill="none" stroke="#1e1e1e" stroke-width="1.15"/><rect x="16.1" y="2.1" width="5.2" height="3.3" fill="none" stroke="#1e1e1e" stroke-width="0.8"/><circle cx="5.2" cy="11.7" r="2.6" fill="none" stroke="#1e1e1e" stroke-width="1.1"/><circle cx="10.9" cy="12.0" r="2.2" fill="none" stroke="#1e1e1e" stroke-width="1.1"/><circle cx="19.8" cy="11.1" r="3.6" fill="none" stroke="#1e1e1e" stroke-width="1.2"/></g><text x="1061.6" y="309.4" font-size="14" font-weight="bold" fill="#141414" textLength="153.7" lengthAdjust="spacingAndGlyphs" >FULL OPERATIONAL ZONES</text><text x="1154.8" y="586.7" font-size="8.2" font-weight="bold" fill="#141414" textLength="59.8" lengthAdjust="spacingAndGlyphs" >CONSTRUCTION</text><text x="1155.7" y="595.7" font-size="8.2" font-weight="bold" fill="#141414" textLength="58.0" lengthAdjust="spacingAndGlyphs" >STAGIAG AREA</text><text x="1050.2" y="650.8" font-size="13.4" font-weight="bold" fill="#141414" textLength="167.4" lengthAdjust="spacingAndGlyphs" >E-COMMERCE &amp; CROSS-DOCK</text><text x="1064.5" y="665.4" font-size="13.4" font-weight="bold" fill="#141414" textLength="138.8" lengthAdjust="spacingAndGlyphs" >(UNDER CONSTRUCTION)</text><text x="1302.2" y="475.3" font-size="9.6" font-weight="bold" fill="#141414" textLength="31.7" lengthAdjust="spacingAndGlyphs" >INTERIM</text><text x="1301.0" y="485.1" font-size="9.6" font-weight="bold" fill="#141414" textLength="34.0" lengthAdjust="spacingAndGlyphs" >LONDING</text><text x="1303.5" y="495.4" font-size="9.6" font-weight="bold" fill="#141414" textLength="29.0" lengthAdjust="spacingAndGlyphs" >DOCKB</text><text x="1299.7" y="605.6" font-size="9.6" font-weight="bold" fill="#141414" textLength="22.0" lengthAdjust="spacingAndGlyphs" >FINAL</text><text x="1286.7" y="615.8" font-size="9.6" font-weight="bold" fill="#141414" textLength="48.0" lengthAdjust="spacingAndGlyphs" >TEMPORARY</text><text x="1294.7" y="625.6" font-size="9.6" font-weight="bold" fill="#141414" textLength="32.0" lengthAdjust="spacingAndGlyphs" >ROUTES</text><text x="1111.2" y="716.0" font-size="16.3" font-weight="bold" fill="#141414" textLength="55.5" lengthAdjust="spacingAndGlyphs" >PHASE 3</text><text x="1099.3" y="730.7" font-size="14.2" font-weight="bold" fill="#141414" textLength="79.0" lengthAdjust="spacingAndGlyphs" >(Months 13-18)</text><rect x="1272.3" y="665.4" width="83.2" height="81.2" fill="#fff" stroke="#777" stroke-width="0.9" /><text x="1275.3" y="675.4" font-size="8.5" font-weight="bold" fill="#1a1a1a" textLength="29" lengthAdjust="spacingAndGlyphs">LEGEND:</text><rect x="1274.3" y="677.2" width="19.5" height="6.8" fill="#f89c99" stroke="#c33" stroke-width="0.9" /><rect x="1278.3" y="679.0" width="11.0" height="3.2" fill="#a22" stroke="none" stroke-width="1" opacity="0.75"/><rect x="1274.3" y="685.8" width="19.5" height="6.8" fill="#6fb37a" stroke="#2a6a35" stroke-width="0.9" /><rect x="1278.3" y="687.6" width="11.0" height="3.2" fill="#1d4a25" stroke="none" stroke-width="1" opacity="0.75"/><rect x="1274.3" y="694.3" width="19.5" height="6.8" fill="#f0e040" stroke="#c8b800" stroke-width="0.9" /><rect x="1278.3" y="696.1" width="11.0" height="3.2" fill="#5a5a10" stroke="none" stroke-width="1" opacity="0.75"/><text x="1296.3" y="683.1" font-size="7" font-weight="bold" fill="#262626" textLength="52.5" lengthAdjust="spacingAndGlyphs">• UNDER CONSTRUCTION</text><text x="1296.3" y="691.6" font-size="7" font-weight="bold" fill="#262626" textLength="34.0" lengthAdjust="spacingAndGlyphs">• OPERATIONAL</text><text x="1296.3" y="700.1" font-size="7" font-weight="bold" fill="#262626" textLength="56.0" lengthAdjust="spacingAndGlyphs">• TEMPORARY/RELOCATED</text><text x="1296.3" y="708.6" font-size="7" font-weight="bold" fill="#262626" textLength="33.0" lengthAdjust="spacingAndGlyphs">SOCIAL SYMBOL</text><text x="1296.3" y="717.1" font-size="7" font-weight="bold" fill="#262626" textLength="32.0" lengthAdjust="spacingAndGlyphs">ENTRANCE SIGN</text><text x="1296.3" y="725.6" font-size="7" font-weight="bold" fill="#262626" textLength="36.0" lengthAdjust="spacingAndGlyphs">SAFETY BARRIER</text><text x="1296.3" y="734.1" font-size="7" font-weight="bold" fill="#262626" textLength="36.0" lengthAdjust="spacingAndGlyphs">DELIVERY ROUTE</text><text x="1296.3" y="742.6" font-size="7" font-weight="bold" fill="#262626" textLength="38.0" lengthAdjust="spacingAndGlyphs">LOGISTICS ROUTE</text><path d="M1279.3,719.1 L1291.3,719.1 L1289.3,714.1 L1281.3,714.1 Z M1283.3,714.1 L1283.8,708.1 Q1285.3,705.1 1286.8,708.1 L1287.3,714.1 M1281.3,716.6 L1289.3,716.6" stroke="#222" stroke-width="1.0" fill="none" /><rect x="1276.3" y="721.8" width="6.0" height="2.6" fill="#f0ea50" stroke="none" stroke-width="1" /><rect x="1285.3" y="721.8" width="6.0" height="2.6" fill="#f0ea50" stroke="none" stroke-width="1" /><line x1="1276.3" y1="731.6" x2="1287.3" y2="731.6" stroke="#1f4f9c" stroke-width="2.6" /><path d="M1292.3,731.6 L1286.3,728.4 L1286.3,734.8000000000001 Z" stroke="none" stroke-width="1" fill="#1f4f9c" /><line x1="1276.3" y1="740.1" x2="1287.3" y2="740.1" stroke="#c88a30" stroke-width="2.6" /><path d="M1292.3,740.1 L1286.3,736.9 L1286.3,743.3000000000001 Z" stroke="#9e6c1c" stroke-width="0.6" fill="#e5a440" /><rect x="944.5" y="736.8" width="105.5" height="5.0" fill="#fff" stroke="#222" stroke-width="0.8" /><rect x="944.5" y="736.8" width="12.7" height="2.5" fill="#111" stroke="none" stroke-width="1" /><rect x="965.6" y="736.8" width="10.6" height="2.5" fill="#111" stroke="none" stroke-width="1" /><rect x="997.2" y="736.8" width="52.8" height="2.5" fill="#111" stroke="none" stroke-width="1" /><rect x="957.2" y="739.3" width="8.4" height="2.5" fill="#111" stroke="none" stroke-width="1" /><rect x="973.0" y="739.3" width="24.3" height="2.5" fill="#111" stroke="none" stroke-width="1" /><text x="944.5" y="735.3" font-size="4" fill="#333" text-anchor="middle">0</text><text x="965.6" y="735.3" font-size="4" fill="#333" text-anchor="middle">100</text><text x="992.0" y="735.3" font-size="4" fill="#333" text-anchor="middle">1200</text><text x="1050.0" y="735.3" font-size="4" fill="#333" text-anchor="middle">1500</text><text x="944.5" y="748.3" font-size="7" font-weight="bold" fill="#333" textLength="26" lengthAdjust="spacingAndGlyphs">SCALE 1:500</text><path d="M1245,585 L1258,610 L1265,600" stroke="#888" stroke-width="0.7" fill="none" stroke-dasharray="2,1"/><path d="M1282,588 L1290,600" stroke="#b8c83a" stroke-width="1.2" fill="none" /><path d="M967.1,575.4 L967.1,592.9 Q967.1,601.9 976.1,601.9 L1016.7,601.9" stroke="#1f4f9c" stroke-width="4.1" fill="none" stroke-linecap="butt"/><path d="M967.1,575.4 L967.1,592.9 Q967.1,601.9 976.1,601.9 L1016.7,601.9" stroke="#2f6ec6" stroke-width="2.5" fill="none" stroke-linecap="butt"/><path d="M1022.3,601.9 L1014.3,606.4 L1016.3,601.9 L1014.3,597.4 Z" fill="#2f6ec6" stroke="#1f4f9c" stroke-width="0.9"/><path d="M962.9,619.2 L1016.7,619.2" stroke="#1f4f9c" stroke-width="4.1" fill="none" stroke-linecap="butt"/><path d="M962.9,619.2 L1016.7,619.2" stroke="#2f6ec6" stroke-width="2.5" fill="none" stroke-linecap="butt"/><path d="M1022.3,619.2 L1014.3,623.7 L1016.3,619.2 L1014.3,614.7 Z" fill="#2f6ec6" stroke="#1f4f9c" stroke-width="0.9"/><path d="M1082.7,557.7 L1082.7,589.6" stroke="#1f4f9c" stroke-width="4.1" fill="none" stroke-linecap="butt"/><path d="M1082.7,557.7 L1082.7,589.6" stroke="#2f6ec6" stroke-width="2.5" fill="none" stroke-linecap="butt"/><path d="M1082.7,595.2 L1078.2,587.2 L1082.7,589.2 L1087.2,587.2 Z" fill="#2f6ec6" stroke="#1f4f9c" stroke-width="0.9"/><path d="M1135.6,557.4 L1135.6,588.1" stroke="#1f4f9c" stroke-width="4.1" fill="none" stroke-linecap="butt"/><path d="M1135.6,557.4 L1135.6,588.1" stroke="#2f6ec6" stroke-width="2.5" fill="none" stroke-linecap="butt"/><path d="M1135.6,593.7 L1131.1,585.7 L1135.6,587.7 L1140.1,585.7 Z" fill="#2f6ec6" stroke="#1f4f9c" stroke-width="0.9"/><path d="M1294.0,457.0 L1294.0,374.0 Q1294.0,368.0 1288.0,368.0 L1263.8,368.0" stroke="#9e6c1c" stroke-width="4.1" fill="none" stroke-linecap="butt"/><path d="M1294.0,457.0 L1294.0,374.0 Q1294.0,368.0 1288.0,368.0 L1263.8,368.0" stroke="#e5a440" stroke-width="2.5" fill="none" stroke-linecap="butt"/><path d="M1294.0,457.0 L1294.0,374.0 Q1294.0,368.0 1288.0,368.0 L1263.8,368.0" stroke="#f2c27a" stroke-width="0.9" fill="none" stroke-linecap="butt"/><path d="M1258.5,368.0 L1266.0,363.8 L1264.0,368.0 L1266.0,372.2 Z" fill="#e5a440" stroke="#9e6c1c" stroke-width="0.9"/><path d="M1294.0,450.0 L1294.0,453.5 Q1294.0,457.0 1290.5,457.0 L1246.0,457.0 Q1240.0,457.0 1239.4,463.0 L1239.0,466.8" stroke="#9e6c1c" stroke-width="4.1" fill="none" stroke-linecap="butt"/><path d="M1294.0,450.0 L1294.0,453.5 Q1294.0,457.0 1290.5,457.0 L1246.0,457.0 Q1240.0,457.0 1239.4,463.0 L1239.0,466.8" stroke="#e5a440" stroke-width="2.5" fill="none" stroke-linecap="butt"/><path d="M1294.0,450.0 L1294.0,453.5 Q1294.0,457.0 1290.5,457.0 L1246.0,457.0 Q1240.0,457.0 1239.4,463.0 L1239.0,466.8" stroke="#f2c27a" stroke-width="0.9" fill="none" stroke-linecap="butt"/><path d="M1238.5,472.0 L1235.0,464.1 L1239.0,466.5 L1243.5,465.0 Z" fill="#e5a440" stroke="#9e6c1c" stroke-width="0.9"/><path d="M1283.0,480.0 L1283.0,425.0 Q1283.0,419.0 1277.0,419.0 L1263.8,419.0" stroke="#9e6c1c" stroke-width="4.1" fill="none" stroke-linecap="butt"/><path d="M1283.0,480.0 L1283.0,425.0 Q1283.0,419.0 1277.0,419.0 L1263.8,419.0" stroke="#e5a440" stroke-width="2.5" fill="none" stroke-linecap="butt"/><path d="M1283.0,480.0 L1283.0,425.0 Q1283.0,419.0 1277.0,419.0 L1263.8,419.0" stroke="#f2c27a" stroke-width="0.9" fill="none" stroke-linecap="butt"/><path d="M1258.5,419.0 L1266.0,414.8 L1264.0,419.0 L1266.0,423.2 Z" fill="#e5a440" stroke="#9e6c1c" stroke-width="0.9"/><path d="M1283.0,470.0 L1283.0,480.6 L1257.0,480.6" stroke="#9e6c1c" stroke-width="4.1" fill="none" stroke-linejoin="round"/><path d="M1283.0,470.0 L1283.0,480.6 L1257.0,480.6" stroke="#e5a440" stroke-width="2.5" fill="none" stroke-linejoin="round"/><path d="M1283.0,470.0 L1283.0,480.6 L1257.0,480.6" stroke="#f2c27a" stroke-width="0.9" fill="none" stroke-linejoin="round"/><path d="M1238.1,591.6 L1238.1,486.6 Q1238.1,480.6 1232.1,480.6 L1192.2,480.6" stroke="#9e6c1c" stroke-width="4.1" fill="none" stroke-linecap="butt"/><path d="M1238.1,591.6 L1238.1,486.6 Q1238.1,480.6 1232.1,480.6 L1192.2,480.6" stroke="#e5a440" stroke-width="2.5" fill="none" stroke-linecap="butt"/><path d="M1238.1,591.6 L1238.1,486.6 Q1238.1,480.6 1232.1,480.6 L1192.2,480.6" stroke="#f2c27a" stroke-width="0.9" fill="none" stroke-linecap="butt"/><path d="M1186.9,480.6 L1194.4,476.4 L1192.4,480.6 L1194.4,484.9 Z" fill="#e5a440" stroke="#9e6c1c" stroke-width="0.9"/><path d="M1238.1,591.6 L1223.2,591.6" stroke="#9e6c1c" stroke-width="4.1" fill="none" stroke-linejoin="round"/><path d="M1238.1,591.6 L1223.2,591.6" stroke="#e5a440" stroke-width="2.5" fill="none" stroke-linejoin="round"/><path d="M1238.1,591.6 L1223.2,591.6" stroke="#f2c27a" stroke-width="0.9" fill="none" stroke-linejoin="round"/><path d="M1297.9,521.1 L1264.8,521.1" stroke="#9e6c1c" stroke-width="4.1" fill="none" stroke-linecap="butt"/><path d="M1297.9,521.1 L1264.8,521.1" stroke="#e5a440" stroke-width="2.5" fill="none" stroke-linecap="butt"/><path d="M1297.9,521.1 L1264.8,521.1" stroke="#f2c27a" stroke-width="0.9" fill="none" stroke-linecap="butt"/><path d="M1259.5,521.1 L1267.0,516.9 L1265.0,521.1 L1267.0,525.4 Z" fill="#e5a440" stroke="#9e6c1c" stroke-width="0.9"/><path d="M1186.9,563.8 L1270.5,563.8 Q1276.5,563.8 1276.5,569.8 L1276.5,585.6 Q1276.5,591.6 1270.5,591.6 L1266.8,591.6" stroke="#9e6c1c" stroke-width="4.1" fill="none" stroke-linecap="butt"/><path d="M1186.9,563.8 L1270.5,563.8 Q1276.5,563.8 1276.5,569.8 L1276.5,585.6 Q1276.5,591.6 1270.5,591.6 L1266.8,591.6" stroke="#e5a440" stroke-width="2.5" fill="none" stroke-linecap="butt"/><path d="M1186.9,563.8 L1270.5,563.8 Q1276.5,563.8 1276.5,569.8 L1276.5,585.6 Q1276.5,591.6 1270.5,591.6 L1266.8,591.6" stroke="#f2c27a" stroke-width="0.9" fill="none" stroke-linecap="butt"/><path d="M1261.6,591.6 L1269.1,587.4 L1267.1,591.6 L1269.1,595.9 Z" fill="#e5a440" stroke="#9e6c1c" stroke-width="0.9"/><path d="M1276.5,563.8 L1192.2,563.8" stroke="#9e6c1c" stroke-width="4.1" fill="none" stroke-linecap="butt"/><path d="M1276.5,563.8 L1192.2,563.8" stroke="#e5a440" stroke-width="2.5" fill="none" stroke-linecap="butt"/><path d="M1276.5,563.8 L1192.2,563.8" stroke="#f2c27a" stroke-width="0.9" fill="none" stroke-linecap="butt"/><path d="M1186.9,563.8 L1194.4,559.5 L1192.4,563.8 L1194.4,568.0 Z" fill="#e5a440" stroke="#9e6c1c" stroke-width="0.9"/>
</svg></body></html>
